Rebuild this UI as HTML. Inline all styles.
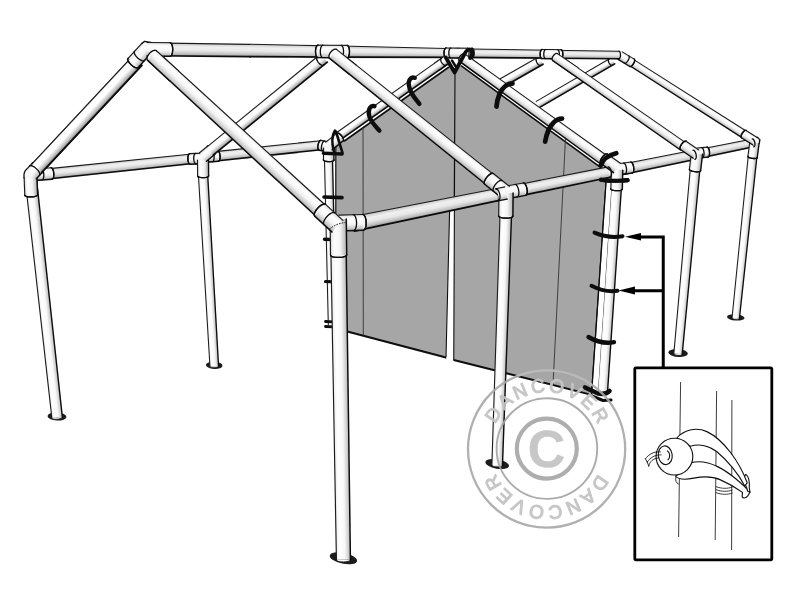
<!DOCTYPE html><html><head><meta charset="utf-8"><title>Dancover</title><style>html,body{margin:0;padding:0;background:#fff;overflow:hidden}svg{display:block}text{font-family:"Liberation Sans",sans-serif}</style></head><body><svg width="800" height="600" viewBox="0 0 800 600"><defs><linearGradient id="g1" gradientUnits="userSpaceOnUse" x1="573.74" y1="79.57" x2="577.26" y2="85.63"><stop offset="0" stop-color="#f2f2f2"/><stop offset="0.15" stop-color="#ffffff"/><stop offset="0.48" stop-color="#ffffff"/><stop offset="0.8" stop-color="#bebebe"/><stop offset="1" stop-color="#787878"/></linearGradient><linearGradient id="g2" gradientUnits="userSpaceOnUse" x1="517.4" y1="69.06" x2="521.6" y2="76.44"><stop offset="0" stop-color="#f2f2f2"/><stop offset="0.15" stop-color="#ffffff"/><stop offset="0.48" stop-color="#ffffff"/><stop offset="0.8" stop-color="#bebebe"/><stop offset="1" stop-color="#787878"/></linearGradient><linearGradient id="g3" gradientUnits="userSpaceOnUse" x1="740.11" y1="237.17" x2="748.11" y2="238"><stop offset="0" stop-color="#ececec"/><stop offset="0.25" stop-color="#ffffff"/><stop offset="0.6" stop-color="#f8f8f8"/><stop offset="1" stop-color="#b8b8b8"/></linearGradient><linearGradient id="g4" gradientUnits="userSpaceOnUse" x1="724.17" y1="144.44" x2="725.83" y2="152.67"><stop offset="0" stop-color="#c8c8c8"/><stop offset="0.28" stop-color="#f0f0f0"/><stop offset="0.55" stop-color="#e8e8e8"/><stop offset="0.85" stop-color="#bcbcbc"/><stop offset="1" stop-color="#8e8e8e"/></linearGradient><linearGradient id="g5" gradientUnits="userSpaceOnUse" x1="749.09" y1="147.4" x2="758.41" y2="148.6"><stop offset="0" stop-color="#dcdcdc"/><stop offset="0.25" stop-color="#ffffff"/><stop offset="0.6" stop-color="#f4f4f4"/><stop offset="1" stop-color="#b0b0b0"/></linearGradient><linearGradient id="g6" gradientUnits="userSpaceOnUse" x1="688.58" y1="94.42" x2="684.52" y2="100.78"><stop offset="0" stop-color="#ececec"/><stop offset="0.25" stop-color="#ffffff"/><stop offset="0.55" stop-color="#f4f4f4"/><stop offset="0.85" stop-color="#cccccc"/><stop offset="1" stop-color="#a0a0a0"/></linearGradient><linearGradient id="g7" gradientUnits="userSpaceOnUse" x1="752.2" y1="134.35" x2="747.58" y2="141.6"><stop offset="0" stop-color="#dcdcdc"/><stop offset="0.25" stop-color="#ffffff"/><stop offset="0.6" stop-color="#f4f4f4"/><stop offset="1" stop-color="#b0b0b0"/></linearGradient><linearGradient id="g8" gradientUnits="userSpaceOnUse" x1="628.23" y1="55.48" x2="623.77" y2="62.82"><stop offset="0" stop-color="#dcdcdc"/><stop offset="0.25" stop-color="#ffffff"/><stop offset="0.6" stop-color="#f4f4f4"/><stop offset="1" stop-color="#b0b0b0"/></linearGradient><linearGradient id="g9" gradientUnits="userSpaceOnUse" x1="682.02" y1="261.57" x2="690.99" y2="262.4"><stop offset="0" stop-color="#ececec"/><stop offset="0.25" stop-color="#ffffff"/><stop offset="0.6" stop-color="#f8f8f8"/><stop offset="1" stop-color="#b8b8b8"/></linearGradient><linearGradient id="g10" gradientUnits="userSpaceOnUse" x1="653.52" y1="157.99" x2="655.48" y2="167.69"><stop offset="0" stop-color="#c8c8c8"/><stop offset="0.28" stop-color="#f0f0f0"/><stop offset="0.55" stop-color="#e8e8e8"/><stop offset="0.85" stop-color="#bcbcbc"/><stop offset="1" stop-color="#8e8e8e"/></linearGradient><linearGradient id="g11" gradientUnits="userSpaceOnUse" x1="702.05" y1="147.57" x2="702.95" y2="157.53"><stop offset="0" stop-color="#dcdcdc"/><stop offset="0.25" stop-color="#ffffff"/><stop offset="0.6" stop-color="#f4f4f4"/><stop offset="1" stop-color="#b0b0b0"/></linearGradient><linearGradient id="g12" gradientUnits="userSpaceOnUse" x1="690.39" y1="161.07" x2="701.61" y2="162.43"><stop offset="0" stop-color="#dcdcdc"/><stop offset="0.25" stop-color="#ffffff"/><stop offset="0.6" stop-color="#f4f4f4"/><stop offset="1" stop-color="#b0b0b0"/></linearGradient><linearGradient id="g13" gradientUnits="userSpaceOnUse" x1="621.47" y1="98.1" x2="616.53" y2="105.2"><stop offset="0" stop-color="#ececec"/><stop offset="0.25" stop-color="#ffffff"/><stop offset="0.55" stop-color="#f4f4f4"/><stop offset="0.85" stop-color="#cccccc"/><stop offset="1" stop-color="#a0a0a0"/></linearGradient><linearGradient id="g14" gradientUnits="userSpaceOnUse" x1="692.45" y1="145.62" x2="686.78" y2="153.85"><stop offset="0" stop-color="#dcdcdc"/><stop offset="0.25" stop-color="#ffffff"/><stop offset="0.6" stop-color="#f4f4f4"/><stop offset="1" stop-color="#b0b0b0"/></linearGradient><linearGradient id="g15" gradientUnits="userSpaceOnUse" x1="200.23" y1="43.58" x2="200.07" y2="56.23"><stop offset="0" stop-color="#c8c8c8"/><stop offset="0.28" stop-color="#f0f0f0"/><stop offset="0.55" stop-color="#e8e8e8"/><stop offset="0.85" stop-color="#bcbcbc"/><stop offset="1" stop-color="#8e8e8e"/></linearGradient><linearGradient id="g16" gradientUnits="userSpaceOnUse" x1="290.22" y1="45.08" x2="290.08" y2="56.92"><stop offset="0" stop-color="#c8c8c8"/><stop offset="0.28" stop-color="#f0f0f0"/><stop offset="0.55" stop-color="#e8e8e8"/><stop offset="0.85" stop-color="#bcbcbc"/><stop offset="1" stop-color="#8e8e8e"/></linearGradient><linearGradient id="g17" gradientUnits="userSpaceOnUse" x1="393.71" y1="47.26" x2="393.59" y2="57.25"><stop offset="0" stop-color="#c8c8c8"/><stop offset="0.28" stop-color="#f0f0f0"/><stop offset="0.55" stop-color="#e8e8e8"/><stop offset="0.85" stop-color="#bcbcbc"/><stop offset="1" stop-color="#8e8e8e"/></linearGradient><linearGradient id="g18" gradientUnits="userSpaceOnUse" x1="503.7" y1="49.41" x2="503.6" y2="57.76"><stop offset="0" stop-color="#c8c8c8"/><stop offset="0.28" stop-color="#f0f0f0"/><stop offset="0.55" stop-color="#e8e8e8"/><stop offset="0.85" stop-color="#bcbcbc"/><stop offset="1" stop-color="#8e8e8e"/></linearGradient><linearGradient id="g19" gradientUnits="userSpaceOnUse" x1="584.7" y1="50.72" x2="584.6" y2="58.42"><stop offset="0" stop-color="#c8c8c8"/><stop offset="0.28" stop-color="#f0f0f0"/><stop offset="0.55" stop-color="#e8e8e8"/><stop offset="0.85" stop-color="#bcbcbc"/><stop offset="1" stop-color="#8e8e8e"/></linearGradient><linearGradient id="g20" gradientUnits="userSpaceOnUse" x1="326.4" y1="242.59" x2="334.4" y2="242.41"><stop offset="0" stop-color="#ececec"/><stop offset="0.25" stop-color="#ffffff"/><stop offset="0.6" stop-color="#f8f8f8"/><stop offset="1" stop-color="#b8b8b8"/></linearGradient><linearGradient id="g21" gradientUnits="userSpaceOnUse" x1="604.41" y1="290.17" x2="614.39" y2="290.83"><stop offset="0" stop-color="#ececec"/><stop offset="0.25" stop-color="#ffffff"/><stop offset="0.6" stop-color="#f8f8f8"/><stop offset="1" stop-color="#b8b8b8"/></linearGradient><linearGradient id="g22" gradientUnits="userSpaceOnUse" x1="389.63" y1="95.05" x2="394.37" y2="101.75"><stop offset="0" stop-color="#f2f2f2"/><stop offset="0.15" stop-color="#ffffff"/><stop offset="0.48" stop-color="#ffffff"/><stop offset="0.8" stop-color="#bebebe"/><stop offset="1" stop-color="#787878"/></linearGradient><linearGradient id="g23" gradientUnits="userSpaceOnUse" x1="535.35" y1="104.45" x2="529.65" y2="112.35"><stop offset="0" stop-color="#ececec"/><stop offset="0.25" stop-color="#ffffff"/><stop offset="0.55" stop-color="#f4f4f4"/><stop offset="0.85" stop-color="#cccccc"/><stop offset="1" stop-color="#a0a0a0"/></linearGradient><linearGradient id="g24" gradientUnits="userSpaceOnUse" x1="269.02" y1="146.04" x2="269.98" y2="155.19"><stop offset="0" stop-color="#c8c8c8"/><stop offset="0.28" stop-color="#f0f0f0"/><stop offset="0.55" stop-color="#e8e8e8"/><stop offset="0.85" stop-color="#bcbcbc"/><stop offset="1" stop-color="#8e8e8e"/></linearGradient><linearGradient id="g25" gradientUnits="userSpaceOnUse" x1="116.99" y1="161.68" x2="118.01" y2="171.47"><stop offset="0" stop-color="#c8c8c8"/><stop offset="0.28" stop-color="#f0f0f0"/><stop offset="0.55" stop-color="#e8e8e8"/><stop offset="0.85" stop-color="#bcbcbc"/><stop offset="1" stop-color="#8e8e8e"/></linearGradient><linearGradient id="g26" gradientUnits="userSpaceOnUse" x1="204.21" y1="271.37" x2="213.14" y2="270.85"><stop offset="0" stop-color="#ececec"/><stop offset="0.25" stop-color="#ffffff"/><stop offset="0.6" stop-color="#f8f8f8"/><stop offset="1" stop-color="#b8b8b8"/></linearGradient><linearGradient id="g27" gradientUnits="userSpaceOnUse" x1="38.64" y1="299.85" x2="49.47" y2="298.65"><stop offset="0" stop-color="#ececec"/><stop offset="0.25" stop-color="#ffffff"/><stop offset="0.6" stop-color="#f8f8f8"/><stop offset="1" stop-color="#b8b8b8"/></linearGradient><linearGradient id="g28" gradientUnits="userSpaceOnUse" x1="325.42" y1="141.24" x2="323.58" y2="151.07"><stop offset="0" stop-color="#dcdcdc"/><stop offset="0.25" stop-color="#ffffff"/><stop offset="0.6" stop-color="#f4f4f4"/><stop offset="1" stop-color="#b0b0b0"/></linearGradient><linearGradient id="g29" gradientUnits="userSpaceOnUse" x1="323.5" y1="153.96" x2="334" y2="154.04"><stop offset="0" stop-color="#dcdcdc"/><stop offset="0.25" stop-color="#ffffff"/><stop offset="0.6" stop-color="#f4f4f4"/><stop offset="1" stop-color="#b0b0b0"/></linearGradient><linearGradient id="g30" gradientUnits="userSpaceOnUse" x1="331.33" y1="137.63" x2="337.67" y2="145.37"><stop offset="0" stop-color="#dcdcdc"/><stop offset="0.25" stop-color="#ffffff"/><stop offset="0.6" stop-color="#f4f4f4"/><stop offset="1" stop-color="#b0b0b0"/></linearGradient><linearGradient id="g31" gradientUnits="userSpaceOnUse" x1="196.27" y1="153.39" x2="196.73" y2="163.98"><stop offset="0" stop-color="#dcdcdc"/><stop offset="0.25" stop-color="#ffffff"/><stop offset="0.6" stop-color="#f4f4f4"/><stop offset="1" stop-color="#b0b0b0"/></linearGradient><linearGradient id="g32" gradientUnits="userSpaceOnUse" x1="210.06" y1="151.48" x2="210.94" y2="161.84"><stop offset="0" stop-color="#dcdcdc"/><stop offset="0.25" stop-color="#ffffff"/><stop offset="0.6" stop-color="#f4f4f4"/><stop offset="1" stop-color="#b0b0b0"/></linearGradient><linearGradient id="g33" gradientUnits="userSpaceOnUse" x1="197.55" y1="168.03" x2="208.55" y2="167.97"><stop offset="0" stop-color="#dcdcdc"/><stop offset="0.25" stop-color="#ffffff"/><stop offset="0.6" stop-color="#f4f4f4"/><stop offset="1" stop-color="#b0b0b0"/></linearGradient><linearGradient id="g34" gradientUnits="userSpaceOnUse" x1="203.53" y1="149.48" x2="210.47" y2="158.02"><stop offset="0" stop-color="#dcdcdc"/><stop offset="0.25" stop-color="#ffffff"/><stop offset="0.6" stop-color="#f4f4f4"/><stop offset="1" stop-color="#b0b0b0"/></linearGradient><linearGradient id="g35" gradientUnits="userSpaceOnUse" x1="263.71" y1="100.57" x2="270.29" y2="108.63"><stop offset="0" stop-color="#f2f2f2"/><stop offset="0.15" stop-color="#ffffff"/><stop offset="0.48" stop-color="#ffffff"/><stop offset="0.8" stop-color="#bebebe"/><stop offset="1" stop-color="#787878"/></linearGradient><linearGradient id="g36" gradientUnits="userSpaceOnUse" x1="495.93" y1="340.4" x2="506.98" y2="340.78"><stop offset="0" stop-color="#ececec"/><stop offset="0.25" stop-color="#ffffff"/><stop offset="0.6" stop-color="#f8f8f8"/><stop offset="1" stop-color="#b8b8b8"/></linearGradient><linearGradient id="g37" gradientUnits="userSpaceOnUse" x1="565.41" y1="175.28" x2="567.59" y2="186.06"><stop offset="0" stop-color="#c8c8c8"/><stop offset="0.28" stop-color="#f0f0f0"/><stop offset="0.55" stop-color="#e8e8e8"/><stop offset="0.85" stop-color="#bcbcbc"/><stop offset="1" stop-color="#8e8e8e"/></linearGradient><linearGradient id="g38" gradientUnits="userSpaceOnUse" x1="423.67" y1="202.77" x2="426.33" y2="215.9"><stop offset="0" stop-color="#c8c8c8"/><stop offset="0.28" stop-color="#f0f0f0"/><stop offset="0.55" stop-color="#e8e8e8"/><stop offset="0.85" stop-color="#bcbcbc"/><stop offset="1" stop-color="#8e8e8e"/></linearGradient><linearGradient id="g39" gradientUnits="userSpaceOnUse" x1="623.5" y1="163.05" x2="625" y2="173.95"><stop offset="0" stop-color="#dcdcdc"/><stop offset="0.25" stop-color="#ffffff"/><stop offset="0.6" stop-color="#f4f4f4"/><stop offset="1" stop-color="#b0b0b0"/></linearGradient><linearGradient id="g40" gradientUnits="userSpaceOnUse" x1="611.05" y1="179.38" x2="622.55" y2="179.62"><stop offset="0" stop-color="#dcdcdc"/><stop offset="0.25" stop-color="#ffffff"/><stop offset="0.6" stop-color="#f4f4f4"/><stop offset="1" stop-color="#b0b0b0"/></linearGradient><linearGradient id="g41" gradientUnits="userSpaceOnUse" x1="613.85" y1="158.67" x2="607.15" y2="168.03"><stop offset="0" stop-color="#dcdcdc"/><stop offset="0.25" stop-color="#ffffff"/><stop offset="0.6" stop-color="#f4f4f4"/><stop offset="1" stop-color="#b0b0b0"/></linearGradient><linearGradient id="g42" gradientUnits="userSpaceOnUse" x1="514.14" y1="184.64" x2="516.36" y2="197.04"><stop offset="0" stop-color="#dcdcdc"/><stop offset="0.25" stop-color="#ffffff"/><stop offset="0.6" stop-color="#f4f4f4"/><stop offset="1" stop-color="#b0b0b0"/></linearGradient><linearGradient id="g43" gradientUnits="userSpaceOnUse" x1="498.8" y1="204.44" x2="513" y2="204.56"><stop offset="0" stop-color="#dcdcdc"/><stop offset="0.25" stop-color="#ffffff"/><stop offset="0.6" stop-color="#f4f4f4"/><stop offset="1" stop-color="#b0b0b0"/></linearGradient><linearGradient id="g44" gradientUnits="userSpaceOnUse" x1="414.97" y1="111.91" x2="407.53" y2="121.19"><stop offset="0" stop-color="#ececec"/><stop offset="0.25" stop-color="#ffffff"/><stop offset="0.55" stop-color="#f4f4f4"/><stop offset="0.85" stop-color="#cccccc"/><stop offset="1" stop-color="#a0a0a0"/></linearGradient><linearGradient id="g45" gradientUnits="userSpaceOnUse" x1="501.32" y1="179.92" x2="492.69" y2="190.69"><stop offset="0" stop-color="#dcdcdc"/><stop offset="0.25" stop-color="#ffffff"/><stop offset="0.6" stop-color="#f4f4f4"/><stop offset="1" stop-color="#b0b0b0"/></linearGradient><linearGradient id="g46" gradientUnits="userSpaceOnUse" x1="500.82" y1="187.69" x2="503.18" y2="199.86"><stop offset="0" stop-color="#dcdcdc"/><stop offset="0.25" stop-color="#ffffff"/><stop offset="0.6" stop-color="#f4f4f4"/><stop offset="1" stop-color="#b0b0b0"/></linearGradient><linearGradient id="g47" gradientUnits="userSpaceOnUse" x1="82.75" y1="109.56" x2="92.25" y2="118.44"><stop offset="0" stop-color="#f2f2f2"/><stop offset="0.15" stop-color="#ffffff"/><stop offset="0.48" stop-color="#ffffff"/><stop offset="0.8" stop-color="#bebebe"/><stop offset="1" stop-color="#787878"/></linearGradient><linearGradient id="g48" gradientUnits="userSpaceOnUse" x1="333.69" y1="407.44" x2="348.33" y2="407.21"><stop offset="0" stop-color="#ececec"/><stop offset="0.25" stop-color="#ffffff"/><stop offset="0.6" stop-color="#f8f8f8"/><stop offset="1" stop-color="#b8b8b8"/></linearGradient><linearGradient id="g49" gradientUnits="userSpaceOnUse" x1="41.07" y1="168.52" x2="41.93" y2="179.99"><stop offset="0" stop-color="#dcdcdc"/><stop offset="0.25" stop-color="#ffffff"/><stop offset="0.6" stop-color="#f4f4f4"/><stop offset="1" stop-color="#b0b0b0"/></linearGradient><linearGradient id="g50" gradientUnits="userSpaceOnUse" x1="24.45" y1="186.25" x2="37.25" y2="185.75"><stop offset="0" stop-color="#dcdcdc"/><stop offset="0.25" stop-color="#ffffff"/><stop offset="0.6" stop-color="#f4f4f4"/><stop offset="1" stop-color="#b0b0b0"/></linearGradient><linearGradient id="g51" gradientUnits="userSpaceOnUse" x1="29.33" y1="166.35" x2="39.27" y2="175.63"><stop offset="0" stop-color="#dcdcdc"/><stop offset="0.25" stop-color="#ffffff"/><stop offset="0.6" stop-color="#f4f4f4"/><stop offset="1" stop-color="#b0b0b0"/></linearGradient><linearGradient id="g52" gradientUnits="userSpaceOnUse" x1="82.18" y1="110.19" x2="91.68" y2="119.06"><stop offset="0" stop-color="#f2f2f2"/><stop offset="0.15" stop-color="#ffffff"/><stop offset="0.48" stop-color="#ffffff"/><stop offset="0.8" stop-color="#bebebe"/><stop offset="1" stop-color="#787878"/></linearGradient><linearGradient id="g53" gradientUnits="userSpaceOnUse" x1="350.8" y1="214.8" x2="351.2" y2="230.6"><stop offset="0" stop-color="#dcdcdc"/><stop offset="0.25" stop-color="#ffffff"/><stop offset="0.6" stop-color="#f4f4f4"/><stop offset="1" stop-color="#b0b0b0"/></linearGradient><linearGradient id="g54" gradientUnits="userSpaceOnUse" x1="330.3" y1="237.09" x2="346.5" y2="236.91"><stop offset="0" stop-color="#dcdcdc"/><stop offset="0.25" stop-color="#ffffff"/><stop offset="0.6" stop-color="#f4f4f4"/><stop offset="1" stop-color="#b0b0b0"/></linearGradient><linearGradient id="g55" gradientUnits="userSpaceOnUse" x1="241.11" y1="128.12" x2="231.76" y2="138.28"><stop offset="0" stop-color="#ececec"/><stop offset="0.25" stop-color="#ffffff"/><stop offset="0.55" stop-color="#f4f4f4"/><stop offset="0.85" stop-color="#cccccc"/><stop offset="1" stop-color="#a0a0a0"/></linearGradient><linearGradient id="g56" gradientUnits="userSpaceOnUse" x1="334.23" y1="212.32" x2="323.4" y2="224.1"><stop offset="0" stop-color="#dcdcdc"/><stop offset="0.25" stop-color="#ffffff"/><stop offset="0.6" stop-color="#f4f4f4"/><stop offset="1" stop-color="#b0b0b0"/></linearGradient><linearGradient id="g57" gradientUnits="userSpaceOnUse" x1="135.19" y1="50.56" x2="145.21" y2="59.74"><stop offset="0" stop-color="#dcdcdc"/><stop offset="0.25" stop-color="#ffffff"/><stop offset="0.6" stop-color="#f4f4f4"/><stop offset="1" stop-color="#b0b0b0"/></linearGradient><linearGradient id="g58" gradientUnits="userSpaceOnUse" x1="158.57" y1="42.62" x2="158.43" y2="56.22"><stop offset="0" stop-color="#dcdcdc"/><stop offset="0.25" stop-color="#ffffff"/><stop offset="0.6" stop-color="#f4f4f4"/><stop offset="1" stop-color="#b0b0b0"/></linearGradient><linearGradient id="g59" gradientUnits="userSpaceOnUse" x1="167.48" y1="60.83" x2="158.59" y2="70.49"><stop offset="0" stop-color="#ececec"/><stop offset="0.25" stop-color="#ffffff"/><stop offset="0.55" stop-color="#f4f4f4"/><stop offset="0.85" stop-color="#cccccc"/><stop offset="1" stop-color="#a0a0a0"/></linearGradient><linearGradient id="g60" gradientUnits="userSpaceOnUse" x1="324.08" y1="45.16" x2="323.92" y2="57.66"><stop offset="0" stop-color="#dcdcdc"/><stop offset="0.25" stop-color="#ffffff"/><stop offset="0.6" stop-color="#f4f4f4"/><stop offset="1" stop-color="#b0b0b0"/></linearGradient><linearGradient id="g61" gradientUnits="userSpaceOnUse" x1="338.58" y1="45.34" x2="338.42" y2="57.84"><stop offset="0" stop-color="#dcdcdc"/><stop offset="0.25" stop-color="#ffffff"/><stop offset="0.6" stop-color="#f4f4f4"/><stop offset="1" stop-color="#b0b0b0"/></linearGradient><linearGradient id="g62" gradientUnits="userSpaceOnUse" x1="346.29" y1="57.21" x2="339.22" y2="66.03"><stop offset="0" stop-color="#ececec"/><stop offset="0.25" stop-color="#ffffff"/><stop offset="0.55" stop-color="#f4f4f4"/><stop offset="0.85" stop-color="#cccccc"/><stop offset="1" stop-color="#a0a0a0"/></linearGradient><linearGradient id="g63" gradientUnits="userSpaceOnUse" x1="452.06" y1="48.02" x2="451.94" y2="57.91"><stop offset="0" stop-color="#dcdcdc"/><stop offset="0.25" stop-color="#ffffff"/><stop offset="0.6" stop-color="#f4f4f4"/><stop offset="1" stop-color="#b0b0b0"/></linearGradient><linearGradient id="g64" gradientUnits="userSpaceOnUse" x1="465.06" y1="48.17" x2="464.94" y2="58.07"><stop offset="0" stop-color="#dcdcdc"/><stop offset="0.25" stop-color="#ffffff"/><stop offset="0.6" stop-color="#f4f4f4"/><stop offset="1" stop-color="#b0b0b0"/></linearGradient><linearGradient id="g65" gradientUnits="userSpaceOnUse" x1="474.8" y1="61.13" x2="469.47" y2="68.51"><stop offset="0" stop-color="#ececec"/><stop offset="0.25" stop-color="#ffffff"/><stop offset="0.55" stop-color="#f4f4f4"/><stop offset="0.85" stop-color="#cccccc"/><stop offset="1" stop-color="#a0a0a0"/></linearGradient><linearGradient id="g66" gradientUnits="userSpaceOnUse" x1="546.56" y1="49.51" x2="546.44" y2="58.7"><stop offset="0" stop-color="#dcdcdc"/><stop offset="0.25" stop-color="#ffffff"/><stop offset="0.6" stop-color="#f4f4f4"/><stop offset="1" stop-color="#b0b0b0"/></linearGradient><linearGradient id="g67" gradientUnits="userSpaceOnUse" x1="556.06" y1="49.63" x2="555.94" y2="58.82"><stop offset="0" stop-color="#dcdcdc"/><stop offset="0.25" stop-color="#ffffff"/><stop offset="0.6" stop-color="#f4f4f4"/><stop offset="1" stop-color="#b0b0b0"/></linearGradient><linearGradient id="g68" gradientUnits="userSpaceOnUse" x1="567.68" y1="60.63" x2="562.91" y2="67.55"><stop offset="0" stop-color="#ececec"/><stop offset="0.25" stop-color="#ffffff"/><stop offset="0.55" stop-color="#f4f4f4"/><stop offset="0.85" stop-color="#cccccc"/><stop offset="1" stop-color="#a0a0a0"/></linearGradient><linearGradient id="g69" gradientUnits="userSpaceOnUse" x1="439.68" y1="59.54" x2="444.53" y2="66.39"><stop offset="0" stop-color="#f2f2f2"/><stop offset="0.15" stop-color="#ffffff"/><stop offset="0.48" stop-color="#ffffff"/><stop offset="0.8" stop-color="#bebebe"/><stop offset="1" stop-color="#787878"/></linearGradient><filter id="soft" x="-5%" y="-5%" width="110%" height="110%"><feGaussianBlur stdDeviation="0.35"/></filter><path id="wmt" d="M489.6 449A57 57 0 0 1 603.6 449"/><path id="wmb" d="M603.6 449A57 57 0 0 1 489.6 449"/><clipPath id="pc"><polygon points="335.8,147 344,141.2 449,67 455,71 461,65.6 605,170.6 591.5,394.8 453.75,360 446,357.5 335.8,328.5"/></clipPath><filter id="soft2" x="0" y="0" width="800" height="600" filterUnits="userSpaceOnUse"><feGaussianBlur stdDeviation="0.45"/></filter></defs><g filter="url(#soft2)"><polygon points="611.24,57.77 536.24,101.37 539.76,107.43 614.76,63.83" fill="url(#g1)"/>
<path d="M611.24 57.77L536.24 101.37" fill="none" stroke="#1c1c1c" stroke-width="1.02" stroke-linecap="round"/>
<path d="M614.76 63.83L539.76 107.43" fill="none" stroke="#0a0a0a" stroke-width="1.54" stroke-linecap="round"/>
<path d="M608.87 58.87L608.51 59.22L608.31 59.77L608.27 60.48L608.4 61.3L608.7 62.18L609.13 63.05L609.67 63.86L610.29 64.55L610.94 65.07L611.57 65.39L612.15 65.48L612.63 65.35" fill="none" stroke="#0a0a0a" stroke-width="1.3" stroke-linecap="round" stroke-linejoin="round"/>
<polygon points="538.9,56.81 495.9,81.31 500.1,88.69 543.1,64.19" fill="url(#g2)"/>
<path d="M538.9 56.81L495.9 81.31" fill="none" stroke="#1c1c1c" stroke-width="1.06" stroke-linecap="round"/>
<path d="M543.1 64.19L500.1 88.69" fill="none" stroke="#0a0a0a" stroke-width="1.59" stroke-linecap="round"/>
<path d="M536.75 58.03L536.34 58.43L536.1 59.05L536.06 59.86L536.2 60.79L536.52 61.79L537 62.78L537.61 63.7L538.3 64.48L539.03 65.08L539.75 65.45L540.4 65.56L540.95 65.42" fill="none" stroke="#0a0a0a" stroke-width="1.3" stroke-linecap="round" stroke-linejoin="round"/>
<ellipse cx="735.8" cy="317.4" rx="8.8" ry="3.1" transform="rotate(4 735.8 317.4)" fill="#1c1c1c"/>
<path d="M732.04 317.79L732.13 318.11L732.47 318.43L733.03 318.73L733.77 319L734.65 319.21L735.6 319.35L736.55 319.41L737.45 319.38L738.24 319.27L738.85 319.09L739.24 318.85L739.4 318.55" fill="#fff" stroke="#0a0a0a" stroke-width="0.7" stroke-linecap="round" stroke-linejoin="round"/>
<polygon points="748.17,156.55 732.04,317.79 739.4,318.55 756.83,157.45" fill="url(#g3)"/>
<path d="M748.17 156.55L732.04 317.79" fill="none" stroke="#1c1c1c" stroke-width="1.05" stroke-linecap="round"/>
<path d="M756.83 157.45L739.4 318.55" fill="none" stroke="#0a0a0a" stroke-width="1.3" stroke-linecap="round"/>
<polygon points="696.13,149.92 752.21,138.96 753.79,146.8 697.87,158.54" fill="url(#g4)"/>
<path d="M696.13 149.92L752.21 138.96" fill="none" stroke="#1c1c1c" stroke-width="1.06" stroke-linecap="round"/>
<path d="M697.87 158.54L753.79 146.8" fill="none" stroke="#0a0a0a" stroke-width="1.58" stroke-linecap="round"/>
<path d="M747.94 156.4L748.05 156.79L748.47 157.18L749.18 157.57L750.11 157.91L751.22 158.2L752.42 158.4L753.63 158.51L754.78 158.51L755.77 158.41L756.55 158.22L757.06 157.94L757.26 157.6" fill="#f4f4f4" stroke="#0a0a0a" stroke-width="1.3" stroke-linecap="round" stroke-linejoin="round"/>
<polygon points="750.24,138.4 747.94,156.4 757.26,157.6 759.56,139.6" fill="url(#g5)"/>
<path d="M750.24 138.4L747.94 156.4" fill="none" stroke="#1c1c1c" stroke-width="1.08" stroke-linecap="round"/>
<path d="M759.56 139.6L757.26 157.6" fill="none" stroke="#0a0a0a" stroke-width="1.34" stroke-linecap="round"/>
<path d="M747.94 156.4L748.05 156.79L748.47 157.18L749.18 157.57L750.11 157.91L751.22 158.2L752.42 158.4L753.63 158.51L754.78 158.51L755.77 158.41L756.55 158.22L757.06 157.94L757.26 157.6" fill="none" stroke="#0a0a0a" stroke-width="1.3" stroke-linecap="round" stroke-linejoin="round"/>
<polygon points="632.56,58.82 744.6,130.01 740.4,136.59 628.64,64.98" fill="url(#g6)"/>
<path d="M632.56 58.82L744.6 130.01" fill="none" stroke="#1c1c1c" stroke-width="1.04" stroke-linecap="round"/>
<path d="M628.64 64.98L740.4 136.59" fill="none" stroke="#0a0a0a" stroke-width="1.29" stroke-linecap="round"/>
<path d="M746.09 130.46L745.63 130.34L745.05 130.48L744.38 130.86L743.67 131.47L742.97 132.25L742.32 133.16L741.78 134.13L741.36 135.09L741.11 135.99L741.05 136.76L741.17 137.34L741.46 137.71" fill="#f4f4f4" stroke="#0a0a0a" stroke-width="1.3" stroke-linecap="round" stroke-linejoin="round"/>
<polygon points="758.31,138.25 746.09,130.46 741.46,137.71 753.69,145.5" fill="url(#g7)"/>
<path d="M758.31 138.25L746.09 130.46" fill="none" stroke="#1c1c1c" stroke-width="1.06" stroke-linecap="round"/>
<path d="M753.69 145.5L741.46 137.71" fill="none" stroke="#0a0a0a" stroke-width="1.32" stroke-linecap="round"/>
<path d="M746.09 130.46L745.63 130.34L745.05 130.48L744.38 130.86L743.67 131.47L742.97 132.25L742.32 133.16L741.78 134.13L741.36 135.09L741.11 135.99L741.05 136.76L741.17 137.34L741.46 137.71" fill="none" stroke="#0a0a0a" stroke-width="1.3" stroke-linecap="round" stroke-linejoin="round"/>
<path d="M757.5 137.2L759.8 139.6L759.3 143L752 143Z" fill="#f4f4f4"/>
<path d="M757.3 137.2L759.8 139.6L759.4 143" fill="none" stroke="#0a0a0a" stroke-width="1.3" stroke-linejoin="round" stroke-linecap="round"/>
<path d="M752.19 138.86L752.68 138.91L753.2 139.22L753.7 139.78L754.16 140.56L754.54 141.49L754.81 142.52L754.96 143.57L754.97 144.57L754.85 145.46L754.61 146.18L754.25 146.67L753.81 146.9" fill="#e8e8e8" stroke="#0a0a0a" stroke-width="1.3" stroke-linecap="round" stroke-linejoin="round"/>
<path d="M629.77 66.47L630.22 66.58L630.8 66.43L631.46 66.03L632.16 65.41L632.84 64.61L633.47 63.69L634 62.71L634.39 61.74L634.62 60.83L634.67 60.07L634.54 59.48L634.23 59.13" fill="#f4f4f4" stroke="#0a0a0a" stroke-width="1.3" stroke-linecap="round" stroke-linejoin="round"/>
<polygon points="622.23,51.83 634.23,59.13 629.77,66.47 617.77,59.17" fill="url(#g8)"/>
<path d="M622.23 51.83L634.23 59.13" fill="none" stroke="#1c1c1c" stroke-width="1.06" stroke-linecap="round"/>
<path d="M617.77 59.17L629.77 66.47" fill="none" stroke="#0a0a0a" stroke-width="1.32" stroke-linecap="round"/>
<path d="M624.37 63.19L624.82 63.29L625.4 63.14L626.06 62.74L626.76 62.13L627.44 61.33L628.07 60.41L628.6 59.43L628.99 58.45L629.22 57.55L629.27 56.78L629.14 56.2L628.83 55.84" fill="none" stroke="#0a0a0a" stroke-width="1.3" stroke-linecap="round" stroke-linejoin="round"/>
<path d="M629.77 66.47L630.22 66.58L630.8 66.43L631.46 66.03L632.16 65.41L632.84 64.61L633.47 63.69L634 62.71L634.39 61.74L634.62 60.83L634.67 60.07L634.54 59.48L634.23 59.13" fill="none" stroke="#0a0a0a" stroke-width="1.3" stroke-linecap="round" stroke-linejoin="round"/>
<ellipse cx="678.1" cy="353" rx="9.8" ry="3.9" transform="rotate(5 678.1 353)" fill="#1c1c1c"/>
<path d="M673.83 353.58L673.94 353.94L674.33 354.31L674.97 354.64L675.81 354.94L676.81 355.16L677.89 355.31L678.97 355.36L679.99 355.32L680.88 355.19L681.57 354.97L682.02 354.69L682.19 354.36" fill="#fff" stroke="#0a0a0a" stroke-width="0.7" stroke-linecap="round" stroke-linejoin="round"/>
<polygon points="690.22,169.56 673.83,353.58 682.19,354.36 699.78,170.44" fill="url(#g9)"/>
<path d="M690.22 169.56L673.83 353.58" fill="none" stroke="#1c1c1c" stroke-width="1.07" stroke-linecap="round"/>
<path d="M699.78 170.44L682.19 354.36" fill="none" stroke="#0a0a0a" stroke-width="1.33" stroke-linecap="round"/>
<polygon points="613.97,165.74 693.07,150.23 694.93,159.44 616.03,175.94" fill="url(#g10)"/>
<path d="M613.97 165.74L693.07 150.23" fill="none" stroke="#1c1c1c" stroke-width="1.09" stroke-linecap="round"/>
<path d="M616.03 175.94L694.93 159.44" fill="none" stroke="#0a0a0a" stroke-width="1.63" stroke-linecap="round"/>
<path d="M707.95 157.08L708.45 156.86L708.88 156.32L709.23 155.5L709.45 154.44L709.54 153.22L709.49 151.92L709.31 150.64L709 149.46L708.59 148.45L708.11 147.7L707.58 147.24L707.05 147.12" fill="#f4f4f4" stroke="#0a0a0a" stroke-width="1.3" stroke-linecap="round" stroke-linejoin="round"/>
<polygon points="697.05,148.02 707.05,147.12 707.95,157.08 697.95,157.98" fill="url(#g11)"/>
<path d="M697.05 148.02L707.05 147.12" fill="none" stroke="#1c1c1c" stroke-width="1.09" stroke-linecap="round"/>
<path d="M697.95 157.98L707.95 157.08" fill="none" stroke="#0a0a0a" stroke-width="1.36" stroke-linecap="round"/>
<path d="M702.45 157.58L702.95 157.36L703.38 156.82L703.73 155.99L703.95 154.93L704.04 153.71L703.99 152.42L703.81 151.13L703.5 149.95L703.09 148.95L702.61 148.19L702.08 147.74L701.55 147.62" fill="none" stroke="#0a0a0a" stroke-width="1.3" stroke-linecap="round" stroke-linejoin="round"/>
<path d="M707.95 157.08L708.45 156.86L708.88 156.32L709.23 155.5L709.45 154.44L709.54 153.22L709.49 151.92L709.31 150.64L709 149.46L708.59 148.45L708.11 147.7L707.58 147.24L707.05 147.12" fill="none" stroke="#0a0a0a" stroke-width="1.3" stroke-linecap="round" stroke-linejoin="round"/>
<path d="M689.39 169.32L689.53 169.78L690.04 170.25L690.89 170.71L692.02 171.12L693.35 171.45L694.8 171.68L696.25 171.8L697.63 171.8L698.82 171.67L699.76 171.43L700.37 171.09L700.61 170.68" fill="#f4f4f4" stroke="#0a0a0a" stroke-width="1.3" stroke-linecap="round" stroke-linejoin="round"/>
<polygon points="691.39,152.82 689.39,169.32 700.61,170.68 702.61,154.18" fill="url(#g12)"/>
<path d="M691.39 152.82L689.39 169.32" fill="none" stroke="#1c1c1c" stroke-width="1.12" stroke-linecap="round"/>
<path d="M702.61 154.18L700.61 170.68" fill="none" stroke="#0a0a0a" stroke-width="1.39" stroke-linecap="round"/>
<path d="M689.39 169.32L689.53 169.78L690.04 170.25L690.89 170.71L692.02 171.12L693.35 171.45L694.8 171.68L696.25 171.8L697.63 171.8L698.82 171.67L699.76 171.43L700.37 171.09L700.61 170.68" fill="none" stroke="#0a0a0a" stroke-width="1.3" stroke-linecap="round" stroke-linejoin="round"/>
<polygon points="557.37,53.6 685.57,142.61 680.43,149.99 552.63,60.4" fill="url(#g13)"/>
<path d="M557.37 53.6L685.57 142.61" fill="none" stroke="#1c1c1c" stroke-width="1.06" stroke-linecap="round"/>
<path d="M552.63 60.4L680.43 149.99" fill="none" stroke="#0a0a0a" stroke-width="1.32" stroke-linecap="round"/>
<path d="M686.07 141.22L685.55 141.07L684.87 141.21L684.08 141.63L683.23 142.3L682.38 143.18L681.59 144.21L680.91 145.31L680.39 146.42L680.07 147.45L679.96 148.34L680.07 149.02L680.4 149.46" fill="#f4f4f4" stroke="#0a0a0a" stroke-width="1.3" stroke-linecap="round" stroke-linejoin="round"/>
<polygon points="698.84,150.02 686.07,141.22 680.4,149.46 693.16,158.25" fill="url(#g14)"/>
<path d="M698.84 150.02L686.07 141.22" fill="none" stroke="#1c1c1c" stroke-width="1.09" stroke-linecap="round"/>
<path d="M693.16 158.25L680.4 149.46" fill="none" stroke="#0a0a0a" stroke-width="1.36" stroke-linecap="round"/>
<path d="M686.07 141.22L685.55 141.07L684.87 141.21L684.08 141.63L683.23 142.3L682.38 143.18L681.59 144.21L680.91 145.31L680.39 146.42L680.07 147.45L679.96 148.34L680.07 149.02L680.4 149.46" fill="none" stroke="#0a0a0a" stroke-width="1.3" stroke-linecap="round" stroke-linejoin="round"/>
<path d="M693.07 150.23L693.64 150.28L694.23 150.64L694.81 151.28L695.33 152.17L695.76 153.24L696.07 154.42L696.24 155.62L696.26 156.78L696.13 157.8L695.84 158.61L695.44 159.18L694.93 159.44" fill="none" stroke="#0a0a0a" stroke-width="1.3" stroke-linecap="round" stroke-linejoin="round"/>
<polygon points="150.08,42.85 250.38,44.32 250.22,56.72 149.92,55.75" fill="url(#g15)"/>
<path d="M150.08 42.85L250.38 44.32" fill="none" stroke="#1c1c1c" stroke-width="1.15" stroke-linecap="round"/>
<path d="M149.92 55.75L250.22 56.72" fill="none" stroke="#0a0a0a" stroke-width="1.73" stroke-linecap="round"/>
<polygon points="250.08,44.31 330.37,45.84 330.23,57.14 249.92,56.71" fill="url(#g16)"/>
<path d="M250.08 44.31L330.37 45.84" fill="none" stroke="#1c1c1c" stroke-width="1.13" stroke-linecap="round"/>
<path d="M249.92 56.71L330.23 57.14" fill="none" stroke="#0a0a0a" stroke-width="1.7" stroke-linecap="round"/>
<polygon points="330.07,45.83 457.35,48.68 457.25,57.38 329.93,57.13" fill="url(#g17)"/>
<path d="M330.07 45.83L457.35 48.68" fill="none" stroke="#1c1c1c" stroke-width="1.09" stroke-linecap="round"/>
<path d="M329.93 57.13L457.25 57.38" fill="none" stroke="#0a0a0a" stroke-width="1.64" stroke-linecap="round"/>
<polygon points="457.05,48.67 550.35,50.15 550.25,58.15 456.95,57.37" fill="url(#g18)"/>
<path d="M457.05 48.67L550.35 50.15" fill="none" stroke="#1c1c1c" stroke-width="1.05" stroke-linecap="round"/>
<path d="M456.95 57.37L550.25 58.15" fill="none" stroke="#0a0a0a" stroke-width="1.58" stroke-linecap="round"/>
<polygon points="550.05,50.15 619.34,51.29 619.26,58.7 549.95,58.15" fill="url(#g19)"/>
<path d="M550.05 50.15L619.34 51.29" fill="none" stroke="#1c1c1c" stroke-width="1.04" stroke-linecap="round"/>
<path d="M549.95 58.15L619.26 58.7" fill="none" stroke="#0a0a0a" stroke-width="1.56" stroke-linecap="round"/>
<path d="M618.96 58.69L619.34 58.57L619.7 58.2L620.01 57.62L620.26 56.85L620.42 55.96L620.48 55.01L620.44 54.05L620.3 53.15L620.08 52.38L619.78 51.79L619.43 51.42L619.04 51.29" fill="none" stroke="#0a0a0a" stroke-width="1.3" stroke-linecap="round" stroke-linejoin="round"/>
<polygon points="324.5,160.09 328.3,325.09 336.3,324.91 332.5,159.91" fill="url(#g20)"/>
<path d="M324.5 160.09L328.3 325.09" fill="none" stroke="#1c1c1c" stroke-width="1.05" stroke-linecap="round"/>
<path d="M332.5 159.91L336.3 324.91" fill="none" stroke="#0a0a0a" stroke-width="1.3" stroke-linecap="round"/>
<polygon points="611.11,188.66 597.71,391.67 607.49,392.33 621.29,189.34" fill="url(#g21)"/>
<path d="M611.11 188.66L597.71 391.67" fill="none" stroke="#1c1c1c" stroke-width="1.09" stroke-linecap="round"/>
<path d="M621.29 189.34L607.49 392.33" fill="none" stroke="#0a0a0a" stroke-width="1.36" stroke-linecap="round"/>
<polygon points="335.8,147 344,141.2 449,67 455,71 461,65.6 605,170.6 607,168 591.5,394.8 453.75,360 446,357.5 335.8,328.5" fill="#a6a6a6"/>
<path d="M344 141.2L449 67M461 65.6L605 170.6" fill="none" stroke="#111" stroke-width="1.7" />
<path d="M335.8 147L335.8 328.5M591.5 394.8L607 168" fill="none" stroke="#111" stroke-width="1.2" />
<path d="M335.8 328.5L446 357.5M453.75 360L591.5 394.8" fill="none" stroke="#0a0a0a" stroke-width="1.9" stroke-linecap="round"/>
<polygon points="454.2,204 453.75,360.5 446,358 449.6,211" fill="#fff"/>
<path d="M455 72L454.2 204L449.6 211L446 357.5M455 72L453.75 360" fill="none" stroke="#111" stroke-width="1.1" />
<path d="M363 128L363.3 335.5" fill="none" stroke="#333" stroke-width="0.9" />
<path d="M565.5 138L553 385" fill="none" stroke="#333" stroke-width="0.9" />
<polygon points="607.3,172 611.2,190 598,391 592.3,394.5" fill="#fff"/>
<path d="M607 168L591.5 394.8" fill="none" stroke="#111" stroke-width="1.3" />
<polygon points="444.57,56.07 334.69,134.03 339.31,140.57 449.43,62.93" fill="url(#g22)"/>
<path d="M444.57 56.07L334.69 134.03" fill="none" stroke="#1c1c1c" stroke-width="1.05" stroke-linecap="round"/>
<path d="M449.43 62.93L339.31 140.57" fill="none" stroke="#0a0a0a" stroke-width="1.58" stroke-linecap="round"/>
<polygon points="464.63,53.85 606.07,155.04 599.93,163.56 459.37,61.15" fill="url(#g23)"/>
<path d="M464.63 53.85L606.07 155.04" fill="none" stroke="#1c1c1c" stroke-width="1.09" stroke-linecap="round"/>
<path d="M459.37 61.15L599.93 163.56" fill="none" stroke="#0a0a0a" stroke-width="1.35" stroke-linecap="round"/>
<path d="M374.5 106.2C370.5 105 368 109 369 115C370 121 374 124.5 379.4 130.6" fill="none" stroke="#111" stroke-width="4.4" stroke-linecap="round" stroke-linejoin="round"/>
<path d="M414.8 77.8C410.5 76.5 408 80 409 86C410 92.5 414 97 419.4 103.8" fill="none" stroke="#111" stroke-width="4.4" stroke-linecap="round" stroke-linejoin="round"/>
<path d="M512.5 83.5C507 83.5 502 88 499.5 94C497.5 99 496.8 103 496.5 106.5" fill="none" stroke="#111" stroke-width="4.8" stroke-linecap="round" stroke-linejoin="round"/>
<path d="M562 118.6C556.5 118.6 551.5 124 548.5 130C546.5 135 545.6 138.5 545.2 141.5" fill="none" stroke="#111" stroke-width="4.8" stroke-linecap="round" stroke-linejoin="round"/>
<path d="M601 179.6Q614 181.8 627.5 180.2" fill="none" stroke="#111" stroke-width="4.2" stroke-linecap="round" stroke-linejoin="round"/>
<path d="M594.5 232.6Q608 238.6 622.5 236.2" fill="none" stroke="#111" stroke-width="4" stroke-linecap="round" stroke-linejoin="round"/>
<path d="M591.5 285.8Q605 292.8 617.5 290.8" fill="none" stroke="#111" stroke-width="4" stroke-linecap="round" stroke-linejoin="round"/>
<path d="M588.5 337Q601 344.5 614 342.2" fill="none" stroke="#111" stroke-width="4.4" stroke-linecap="round" stroke-linejoin="round"/>
<path d="M585 387.5L598 393.5Q606 395 609.5 391" fill="none" stroke="#111" stroke-width="4.6" stroke-linecap="round" stroke-linejoin="round"/>
<path d="M592 396L603 400.5L611 400" fill="none" stroke="#111" stroke-width="3" stroke-linecap="round" stroke-linejoin="round"/>
<polygon points="217.51,151.35 320.53,140.73 321.47,149.68 218.49,160.7" fill="url(#g24)"/>
<path d="M217.51 151.35L320.53 140.73" fill="none" stroke="#1c1c1c" stroke-width="1.07" stroke-linecap="round"/>
<path d="M218.49 160.7L321.47 149.68" fill="none" stroke="#0a0a0a" stroke-width="1.61" stroke-linecap="round"/>
<polygon points="44.47,169.12 189.5,154.24 190.5,163.69 45.53,179.26" fill="url(#g25)"/>
<path d="M44.47 169.12L189.5 154.24" fill="none" stroke="#1c1c1c" stroke-width="1.09" stroke-linecap="round"/>
<path d="M45.53 179.26L190.5 163.69" fill="none" stroke="#0a0a0a" stroke-width="1.63" stroke-linecap="round"/>
<ellipse cx="214.2" cy="365.3" rx="8.3" ry="3.7" transform="rotate(3 214.2 365.3)" fill="#1c1c1c"/>
<path d="M209.96 366.48L210.13 366.82L210.58 367.13L211.28 367.37L212.18 367.54L213.22 367.62L214.33 367.6L215.44 367.49L216.47 367.29L217.35 367.02L218.01 366.69L218.42 366.34L218.55 365.97" fill="#fff" stroke="#0a0a0a" stroke-width="0.7" stroke-linecap="round" stroke-linejoin="round"/>
<polygon points="198.46,176.27 209.96,366.48 218.55,365.97 207.74,175.73" fill="url(#g26)"/>
<path d="M198.46 176.27L209.96 366.48" fill="none" stroke="#1c1c1c" stroke-width="1.07" stroke-linecap="round"/>
<path d="M207.74 175.73L218.55 365.97" fill="none" stroke="#0a0a0a" stroke-width="1.33" stroke-linecap="round"/>
<ellipse cx="57" cy="416.5" rx="9.5" ry="4" transform="rotate(3 57 416.5)" fill="#1c1c1c"/>
<path d="M51.89 418.07L52.12 418.48L52.68 418.83L53.55 419.08L54.66 419.23L55.94 419.26L57.29 419.16L58.64 418.96L59.88 418.65L60.93 418.27L61.72 417.83L62.2 417.37L62.33 416.92" fill="#fff" stroke="#0a0a0a" stroke-width="0.7" stroke-linecap="round" stroke-linejoin="round"/>
<polygon points="25.38,181.62 51.89,418.07 62.33,416.92 36.62,180.38" fill="url(#g27)"/>
<path d="M25.38 181.62L51.89 418.07" fill="none" stroke="#1c1c1c" stroke-width="1.11" stroke-linecap="round"/>
<path d="M36.62 180.38L62.33 416.92" fill="none" stroke="#0a0a0a" stroke-width="1.38" stroke-linecap="round"/>
<path d="M320.92 140.4L320.38 140.47L319.82 140.87L319.26 141.58L318.76 142.54L318.34 143.68L318.03 144.94L317.86 146.23L317.84 147.45L317.96 148.53L318.22 149.38L318.6 149.96L319.08 150.23" fill="#f4f4f4" stroke="#0a0a0a" stroke-width="1.3" stroke-linecap="round" stroke-linejoin="round"/>
<polygon points="329.92,142.09 320.92,140.4 319.08,150.23 328.08,151.91" fill="url(#g28)"/>
<path d="M329.92 142.09L320.92 140.4" fill="none" stroke="#1c1c1c" stroke-width="1.09" stroke-linecap="round"/>
<path d="M328.08 151.91L319.08 150.23" fill="none" stroke="#0a0a0a" stroke-width="1.36" stroke-linecap="round"/>
<path d="M324.52 141.07L323.98 141.15L323.42 141.55L322.86 142.25L322.36 143.21L321.94 144.36L321.63 145.62L321.46 146.9L321.44 148.13L321.56 149.2L321.82 150.06L322.2 150.64L322.68 150.9" fill="none" stroke="#0a0a0a" stroke-width="1.3" stroke-linecap="round" stroke-linejoin="round"/>
<path d="M320.92 140.4L320.38 140.47L319.82 140.87L319.26 141.58L318.76 142.54L318.34 143.68L318.03 144.94L317.86 146.23L317.84 147.45L317.96 148.53L318.22 149.38L318.6 149.96L319.08 150.23" fill="none" stroke="#0a0a0a" stroke-width="1.3" stroke-linecap="round" stroke-linejoin="round"/>
<path d="M323.45 159.96L323.63 160.37L324.15 160.75L324.98 161.08L326.06 161.34L327.33 161.51L328.69 161.57L330.05 161.53L331.31 161.39L332.4 161.14L333.24 160.83L333.77 160.45L333.95 160.04" fill="#f4f4f4" stroke="#0a0a0a" stroke-width="1.3" stroke-linecap="round" stroke-linejoin="round"/>
<polygon points="323.55,147.96 323.45,159.96 333.95,160.04 334.05,148.04" fill="url(#g29)"/>
<path d="M323.55 147.96L323.45 159.96" fill="none" stroke="#1c1c1c" stroke-width="1.1" stroke-linecap="round"/>
<path d="M334.05 148.04L333.95 160.04" fill="none" stroke="#0a0a0a" stroke-width="1.37" stroke-linecap="round"/>
<path d="M323.45 159.96L323.63 160.37L324.15 160.75L324.98 161.08L326.06 161.34L327.33 161.51L328.69 161.57L330.05 161.53L331.31 161.39L332.4 161.14L333.24 160.83L333.77 160.45L333.95 160.04" fill="none" stroke="#0a0a0a" stroke-width="1.3" stroke-linecap="round" stroke-linejoin="round"/>
<path d="M343.17 140.87L343.46 140.41L343.52 139.72L343.33 138.84L342.92 137.84L342.31 136.78L341.55 135.73L340.68 134.78L339.76 133.97L338.86 133.37L338.03 133.02L337.34 132.93L336.83 133.13" fill="#f4f4f4" stroke="#0a0a0a" stroke-width="1.3" stroke-linecap="round" stroke-linejoin="round"/>
<polygon points="325.83,142.13 336.83,133.13 343.17,140.87 332.17,149.87" fill="url(#g30)"/>
<path d="M325.83 142.13L336.83 133.13" fill="none" stroke="#1c1c1c" stroke-width="1.09" stroke-linecap="round"/>
<path d="M332.17 149.87L343.17 140.87" fill="none" stroke="#0a0a0a" stroke-width="1.36" stroke-linecap="round"/>
<path d="M343.17 140.87L343.46 140.41L343.52 139.72L343.33 138.84L342.92 137.84L342.31 136.78L341.55 135.73L340.68 134.78L339.76 133.97L338.86 133.37L338.03 133.02L337.34 132.93L336.83 133.13" fill="none" stroke="#0a0a0a" stroke-width="1.3" stroke-linecap="round" stroke-linejoin="round"/>
<path d="M189.77 153.67L189.23 153.87L188.74 154.42L188.34 155.28L188.05 156.39L187.89 157.68L187.88 159.05L188.01 160.42L188.28 161.69L188.66 162.77L189.14 163.59L189.67 164.1L190.23 164.26" fill="#f4f4f4" stroke="#0a0a0a" stroke-width="1.3" stroke-linecap="round" stroke-linejoin="round"/>
<polygon points="202.77,153.1 189.77,153.67 190.23,164.26 203.23,163.7" fill="url(#g31)"/>
<path d="M202.77 153.1L189.77 153.67" fill="none" stroke="#1c1c1c" stroke-width="1.1" stroke-linecap="round"/>
<path d="M203.23 163.7L190.23 164.26" fill="none" stroke="#0a0a0a" stroke-width="1.37" stroke-linecap="round"/>
<path d="M195.62 153.41L195.08 153.62L194.59 154.17L194.19 155.03L193.9 156.14L193.74 157.43L193.73 158.8L193.86 160.17L194.13 161.44L194.51 162.52L194.99 163.34L195.52 163.85L196.08 164" fill="none" stroke="#0a0a0a" stroke-width="1.3" stroke-linecap="round" stroke-linejoin="round"/>
<path d="M189.77 153.67L189.23 153.87L188.74 154.42L188.34 155.28L188.05 156.39L187.89 157.68L187.88 159.05L188.01 160.42L188.28 161.69L188.66 162.77L189.14 163.59L189.67 164.1L190.23 164.26" fill="none" stroke="#0a0a0a" stroke-width="1.3" stroke-linecap="round" stroke-linejoin="round"/>
<path d="M218.44 161.2L218.96 160.98L219.42 160.42L219.78 159.56L220.02 158.46L220.12 157.19L220.07 155.85L219.89 154.51L219.57 153.28L219.15 152.23L218.65 151.45L218.11 150.97L217.56 150.84" fill="#f4f4f4" stroke="#0a0a0a" stroke-width="1.3" stroke-linecap="round" stroke-linejoin="round"/>
<polygon points="202.56,152.12 217.56,150.84 218.44,161.2 203.44,162.48" fill="url(#g32)"/>
<path d="M202.56 152.12L217.56 150.84" fill="none" stroke="#1c1c1c" stroke-width="1.1" stroke-linecap="round"/>
<path d="M203.44 162.48L218.44 161.2" fill="none" stroke="#0a0a0a" stroke-width="1.37" stroke-linecap="round"/>
<path d="M212.44 161.71L212.96 161.49L213.42 160.93L213.78 160.07L214.02 158.97L214.12 157.7L214.07 156.36L213.89 155.02L213.57 153.79L213.15 152.74L212.65 151.96L212.11 151.48L211.56 151.35" fill="none" stroke="#0a0a0a" stroke-width="1.3" stroke-linecap="round" stroke-linejoin="round"/>
<path d="M218.44 161.2L218.96 160.98L219.42 160.42L219.78 159.56L220.02 158.46L220.12 157.19L220.07 155.85L219.89 154.51L219.57 153.28L219.15 152.23L218.65 151.45L218.11 150.97L217.56 150.84" fill="none" stroke="#0a0a0a" stroke-width="1.3" stroke-linecap="round" stroke-linejoin="round"/>
<path d="M197.6 176.03L197.79 176.46L198.34 176.85L199.22 177.19L200.36 177.45L201.69 177.6L203.11 177.65L204.53 177.58L205.86 177.41L207 177.14L207.87 176.8L208.42 176.39L208.6 175.97" fill="#f4f4f4" stroke="#0a0a0a" stroke-width="1.3" stroke-linecap="round" stroke-linejoin="round"/>
<polygon points="197.5,160.03 197.6,176.03 208.6,175.97 208.5,159.97" fill="url(#g33)"/>
<path d="M197.5 160.03L197.6 176.03" fill="none" stroke="#1c1c1c" stroke-width="1.11" stroke-linecap="round"/>
<path d="M208.5 159.97L208.6 175.97" fill="none" stroke="#0a0a0a" stroke-width="1.39" stroke-linecap="round"/>
<path d="M197.6 176.03L197.79 176.46L198.34 176.85L199.22 177.19L200.36 177.45L201.69 177.6L203.11 177.65L204.53 177.58L205.86 177.41L207 177.14L207.87 176.8L208.42 176.39L208.6 175.97" fill="none" stroke="#0a0a0a" stroke-width="1.3" stroke-linecap="round" stroke-linejoin="round"/>
<path d="M323.5 153.3L342 154" fill="none" stroke="#111" stroke-width="3.6" stroke-linecap="round" stroke-linejoin="round"/>
<path d="M324 197L342 197.6" fill="none" stroke="#111" stroke-width="3.6" stroke-linecap="round" stroke-linejoin="round"/>
<path d="M324.5 239.3L333 239.6" fill="none" stroke="#111" stroke-width="3.4" stroke-linecap="round" stroke-linejoin="round"/>
<path d="M325.5 281.5L334 281.8" fill="none" stroke="#111" stroke-width="3.2" stroke-linecap="round" stroke-linejoin="round"/>
<path d="M325.5 321.5L334 321.8" fill="none" stroke="#111" stroke-width="2.8" stroke-linecap="round" stroke-linejoin="round"/>
<path d="M325.5 326.5L334 326.8" fill="none" stroke="#111" stroke-width="2.8" stroke-linecap="round" stroke-linejoin="round"/>
<path d="M335 130.5C331.5 136 331.5 143 334 151.5M336 131.5L342.5 153" fill="none" stroke="#111" stroke-width="2.6" stroke-linecap="round" stroke-linejoin="round"/>
<path d="M214.47 154.77L214.79 154.26L214.86 153.5L214.66 152.54L214.21 151.43L213.55 150.26L212.71 149.11L211.75 148.06L210.74 147.16L209.75 146.5L208.85 146.11L208.09 146.02L207.53 146.23" fill="#f4f4f4" stroke="#0a0a0a" stroke-width="1.3" stroke-linecap="round" stroke-linejoin="round"/>
<polygon points="199.53,152.73 207.53,146.23 214.47,154.77 206.47,161.27" fill="url(#g34)"/>
<path d="M199.53 152.73L207.53 146.23" fill="none" stroke="#1c1c1c" stroke-width="1.11" stroke-linecap="round"/>
<path d="M206.47 161.27L214.47 154.77" fill="none" stroke="#0a0a0a" stroke-width="1.39" stroke-linecap="round"/>
<path d="M214.47 154.77L214.79 154.26L214.86 153.5L214.66 152.54L214.21 151.43L213.55 150.26L212.71 149.11L211.75 148.06L210.74 147.16L209.75 146.5L208.85 146.11L208.09 146.02L207.53 146.23" fill="none" stroke="#0a0a0a" stroke-width="1.3" stroke-linecap="round" stroke-linejoin="round"/>
<polygon points="320.65,53.99 206.78,147.15 213.22,155.05 327.35,62.21" fill="url(#g35)"/>
<path d="M320.65 53.99L206.78 147.15" fill="none" stroke="#1c1c1c" stroke-width="1.1" stroke-linecap="round"/>
<path d="M327.35 62.21L213.22 155.05" fill="none" stroke="#0a0a0a" stroke-width="1.65" stroke-linecap="round"/>
<path d="M317.17 56.89L316.76 57.46L316.6 58.27L316.71 59.26L317.07 60.36L317.67 61.51L318.46 62.62L319.38 63.62L320.39 64.43L321.4 65.01L322.35 65.32L323.17 65.32L323.81 65.03" fill="none" stroke="#0a0a0a" stroke-width="1.3" stroke-linecap="round" stroke-linejoin="round"/>
<ellipse cx="497.2" cy="464" rx="12" ry="4.7" transform="rotate(10 497.2 464)" fill="#1c1c1c"/>
<path d="M491.86 464.99L492.03 465.44L492.54 465.86L493.37 466.24L494.46 466.55L495.73 466.76L497.1 466.87L498.47 466.86L499.76 466.73L500.86 466.5L501.72 466.18L502.26 465.79L502.46 465.36" fill="#fff" stroke="#0a0a0a" stroke-width="0.7" stroke-linecap="round" stroke-linejoin="round"/>
<polygon points="500,215.8 491.86,464.99 502.46,465.36 511.5,216.2" fill="url(#g36)"/>
<path d="M500 215.8L491.86 464.99" fill="none" stroke="#1c1c1c" stroke-width="1.11" stroke-linecap="round"/>
<path d="M511.5 216.2L502.46 465.36" fill="none" stroke="#0a0a0a" stroke-width="1.39" stroke-linecap="round"/>
<polygon points="522.87,183.69 607.95,166.86 610.05,177.25 525.13,194.86" fill="url(#g37)"/>
<path d="M522.87 183.69L607.95 166.86" fill="none" stroke="#1c1c1c" stroke-width="1.11" stroke-linecap="round"/>
<path d="M525.13 194.86L610.05 177.25" fill="none" stroke="#0a0a0a" stroke-width="1.67" stroke-linecap="round"/>
<polygon points="351.55,216.77 495.79,188.77 498.21,200.73 354.45,231.08" fill="url(#g38)"/>
<path d="M351.55 216.77L495.79 188.77" fill="none" stroke="#1c1c1c" stroke-width="1.17" stroke-linecap="round"/>
<path d="M354.45 231.08L498.21 200.73" fill="none" stroke="#0a0a0a" stroke-width="1.75" stroke-linecap="round"/>
<path d="M632.25 172.95L632.79 172.68L633.24 172.07L633.57 171.14L633.76 169.96L633.8 168.62L633.68 167.2L633.41 165.8L633.01 164.51L632.51 163.43L631.94 162.63L631.34 162.16L630.75 162.05" fill="#f4f4f4" stroke="#0a0a0a" stroke-width="1.3" stroke-linecap="round" stroke-linejoin="round"/>
<polygon points="616.25,164.05 630.75,162.05 632.25,172.95 617.75,174.95" fill="url(#g39)"/>
<path d="M616.25 164.05L630.75 162.05" fill="none" stroke="#1c1c1c" stroke-width="1.11" stroke-linecap="round"/>
<path d="M617.75 174.95L632.25 172.95" fill="none" stroke="#0a0a0a" stroke-width="1.39" stroke-linecap="round"/>
<path d="M625 173.95L625.54 173.68L625.99 173.07L626.32 172.14L626.51 170.96L626.55 169.62L626.43 168.2L626.16 166.8L625.76 165.51L625.26 164.43L624.69 163.63L624.09 163.16L623.5 163.05" fill="none" stroke="#0a0a0a" stroke-width="1.3" stroke-linecap="round" stroke-linejoin="round"/>
<path d="M632.25 172.95L632.79 172.68L633.24 172.07L633.57 171.14L633.76 169.96L633.8 168.62L633.68 167.2L633.41 165.8L633.01 164.51L632.51 163.43L631.94 162.63L631.34 162.16L630.75 162.05" fill="none" stroke="#0a0a0a" stroke-width="1.3" stroke-linecap="round" stroke-linejoin="round"/>
<path d="M610.85 188.88L611.04 189.33L611.6 189.76L612.51 190.13L613.69 190.43L615.08 190.63L616.56 190.72L618.05 190.7L619.44 190.55L620.64 190.31L621.56 189.97L622.14 189.56L622.35 189.12" fill="#f4f4f4" stroke="#0a0a0a" stroke-width="1.3" stroke-linecap="round" stroke-linejoin="round"/>
<polygon points="611.25,169.88 610.85,188.88 622.35,189.12 622.75,170.12" fill="url(#g40)"/>
<path d="M611.25 169.88L610.85 188.88" fill="none" stroke="#1c1c1c" stroke-width="1.12" stroke-linecap="round"/>
<path d="M622.75 170.12L622.35 189.12" fill="none" stroke="#0a0a0a" stroke-width="1.4" stroke-linecap="round"/>
<path d="M610.85 188.88L611.04 189.33L611.6 189.76L612.51 190.13L613.69 190.43L615.08 190.63L616.56 190.72L618.05 190.7L619.44 190.55L620.64 190.31L621.56 189.97L622.14 189.56L622.35 189.12" fill="none" stroke="#0a0a0a" stroke-width="1.3" stroke-linecap="round" stroke-linejoin="round"/>
<path d="M607.35 154.02L606.75 153.84L605.96 153.98L605.04 154.45L604.05 155.2L603.06 156.2L602.13 157.36L601.33 158.62L600.71 159.88L600.31 161.06L600.17 162.08L600.28 162.87L600.65 163.38" fill="#f4f4f4" stroke="#0a0a0a" stroke-width="1.3" stroke-linecap="round" stroke-linejoin="round"/>
<polygon points="620.35,163.32 607.35,154.02 600.65,163.38 613.65,172.68" fill="url(#g41)"/>
<path d="M620.35 163.32L607.35 154.02" fill="none" stroke="#1c1c1c" stroke-width="1.12" stroke-linecap="round"/>
<path d="M613.65 172.68L600.65 163.38" fill="none" stroke="#0a0a0a" stroke-width="1.4" stroke-linecap="round"/>
<path d="M607.35 154.02L606.75 153.84L605.96 153.98L605.04 154.45L604.05 155.2L603.06 156.2L602.13 157.36L601.33 158.62L600.71 159.88L600.31 161.06L600.17 162.08L600.28 162.87L600.65 163.38" fill="none" stroke="#0a0a0a" stroke-width="1.3" stroke-linecap="round" stroke-linejoin="round"/>
<path d="M607.97 166.96L608.6 167.01L609.25 167.41L609.89 168.12L610.47 169.11L610.95 170.29L611.29 171.59L611.48 172.93L611.5 174.2L611.35 175.33L611.04 176.24L610.59 176.86L610.03 177.15" fill="none" stroke="#0a0a0a" stroke-width="1.3" stroke-linecap="round" stroke-linejoin="round"/>
<path d="M525.61 195.38L526.22 195.05L526.7 194.32L527.04 193.25L527.21 191.89L527.18 190.35L526.98 188.73L526.61 187.14L526.09 185.69L525.47 184.48L524.78 183.58L524.07 183.07L523.39 182.98" fill="#f4f4f4" stroke="#0a0a0a" stroke-width="1.3" stroke-linecap="round" stroke-linejoin="round"/>
<polygon points="504.89,186.3 523.39,182.98 525.61,195.38 507.11,198.7" fill="url(#g42)"/>
<path d="M504.89 186.3L523.39 182.98" fill="none" stroke="#1c1c1c" stroke-width="1.15" stroke-linecap="round"/>
<path d="M507.11 198.7L525.61 195.38" fill="none" stroke="#0a0a0a" stroke-width="1.43" stroke-linecap="round"/>
<path d="M517.29 196.87L517.89 196.55L518.38 195.82L518.72 194.74L518.88 193.39L518.86 191.85L518.66 190.23L518.28 188.64L517.77 187.19L517.14 185.97L516.45 185.08L515.74 184.57L515.06 184.47" fill="none" stroke="#0a0a0a" stroke-width="1.3" stroke-linecap="round" stroke-linejoin="round"/>
<path d="M525.61 195.38L526.22 195.05L526.7 194.32L527.04 193.25L527.21 191.89L527.18 190.35L526.98 188.73L526.61 187.14L526.09 185.69L525.47 184.48L524.78 183.58L524.07 183.07L523.39 182.98" fill="none" stroke="#0a0a0a" stroke-width="1.3" stroke-linecap="round" stroke-linejoin="round"/>
<path d="M498.7 215.94L498.94 216.49L499.64 217.01L500.77 217.46L502.23 217.81L503.94 218.04L505.78 218.13L507.62 218.07L509.33 217.88L510.81 217.55L511.94 217.12L512.65 216.61L512.9 216.06" fill="#f4f4f4" stroke="#0a0a0a" stroke-width="1.3" stroke-linecap="round" stroke-linejoin="round"/>
<polygon points="498.9,192.94 498.7,215.94 512.9,216.06 513.1,193.06" fill="url(#g43)"/>
<path d="M498.9 192.94L498.7 215.94" fill="none" stroke="#1c1c1c" stroke-width="1.17" stroke-linecap="round"/>
<path d="M513.1 193.06L512.9 216.06" fill="none" stroke="#0a0a0a" stroke-width="1.46" stroke-linecap="round"/>
<path d="M498.7 215.94L498.94 216.49L499.64 217.01L500.77 217.46L502.23 217.81L503.94 218.04L505.78 218.13L507.62 218.07L509.33 217.88L510.81 217.55L511.94 217.12L512.65 216.61L512.9 216.06" fill="none" stroke="#0a0a0a" stroke-width="1.3" stroke-linecap="round" stroke-linejoin="round"/>
<polygon points="336.5,49.43 493.44,174.39 485.56,184.21 329.5,58.17" fill="url(#g44)"/>
<path d="M336.5 49.43L493.44 174.39" fill="none" stroke="#1c1c1c" stroke-width="1.13" stroke-linecap="round"/>
<path d="M329.5 58.17L485.56 184.21" fill="none" stroke="#0a0a0a" stroke-width="1.41" stroke-linecap="round"/>
<path d="M493.32 173.51L492.62 173.24L491.67 173.37L490.54 173.86L489.3 174.7L488.04 175.83L486.85 177.16L485.81 178.62L484.98 180.09L484.43 181.48L484.19 182.69L484.28 183.64L484.69 184.27" fill="#f4f4f4" stroke="#0a0a0a" stroke-width="1.3" stroke-linecap="round" stroke-linejoin="round"/>
<polygon points="509.32,186.33 493.32,173.51 484.69,184.27 500.68,197.1" fill="url(#g45)"/>
<path d="M509.32 186.33L493.32 173.51" fill="none" stroke="#1c1c1c" stroke-width="1.17" stroke-linecap="round"/>
<path d="M500.68 197.1L484.69 184.27" fill="none" stroke="#0a0a0a" stroke-width="1.46" stroke-linecap="round"/>
<path d="M502.12 180.56L501.41 180.3L500.46 180.42L499.33 180.92L498.1 181.76L496.84 182.88L495.65 184.22L494.61 185.67L493.78 187.14L493.23 188.53L492.99 189.74L493.08 190.7L493.49 191.33" fill="none" stroke="#0a0a0a" stroke-width="1.3" stroke-linecap="round" stroke-linejoin="round"/>
<path d="M493.32 173.51L492.62 173.24L491.67 173.37L490.54 173.86L489.3 174.7L488.04 175.83L486.85 177.16L485.81 178.62L484.98 180.09L484.43 181.48L484.19 182.69L484.28 183.64L484.69 184.27" fill="none" stroke="#0a0a0a" stroke-width="1.3" stroke-linecap="round" stroke-linejoin="round"/>
<path d="M495.85 189.06L496.55 189.12L497.28 189.57L497.99 190.36L498.64 191.46L499.17 192.78L499.56 194.23L499.77 195.72L499.79 197.14L499.62 198.4L499.28 199.41L498.77 200.1L498.15 200.43" fill="none" stroke="#0a0a0a" stroke-width="1.3" stroke-linecap="round" stroke-linejoin="round"/>
<polygon points="504.82,186.91 496.82,188.46 499.18,200.63 507.18,199.09" fill="url(#g46)"/>
<path d="M504.82 186.91L496.82 188.46" fill="none" stroke="#1c1c1c" stroke-width="1.15" stroke-linecap="round"/>
<path d="M507.18 199.09L499.18 200.63" fill="none" stroke="#0a0a0a" stroke-width="1.43" stroke-linecap="round"/>
<path d="M495.77 188.67L496.52 188.73L497.3 189.21L498.06 190.06L498.75 191.23L499.32 192.64L499.73 194.19L499.96 195.79L499.98 197.31L499.8 198.65L499.43 199.73L498.9 200.47L498.23 200.82" fill="none" stroke="#0a0a0a" stroke-width="1.3" stroke-linecap="round" stroke-linejoin="round"/>
<polygon points="132.25,56.56 33.25,162.56 42.75,171.44 141.75,65.44" fill="url(#g47)"/>
<path d="M132.25 56.56L33.25 162.56" fill="none" stroke="#1c1c1c" stroke-width="1.16" stroke-linecap="round"/>
<path d="M141.75 65.44L42.75 171.44" fill="none" stroke="#0a0a0a" stroke-width="1.74" stroke-linecap="round"/>
<ellipse cx="343.4" cy="558.3" rx="13.9" ry="5.4" transform="rotate(12 343.4 558.3)" fill="#1c1c1c"/>
<path d="M336.42 559.76L336.67 560.34L337.38 560.87L338.5 561.31L339.95 561.64L341.64 561.84L343.46 561.89L345.27 561.78L346.95 561.53L348.4 561.16L349.5 560.67L350.19 560.12L350.42 559.54" fill="#fff" stroke="#0a0a0a" stroke-width="0.7" stroke-linecap="round" stroke-linejoin="round"/>
<polygon points="330.95,255.12 336.42,559.76 350.42,559.54 346.25,254.88" fill="url(#g48)"/>
<path d="M330.95 255.12L336.42 559.76" fill="none" stroke="#1c1c1c" stroke-width="1.17" stroke-linecap="round"/>
<path d="M346.25 254.88L350.42 559.54" fill="none" stroke="#0a0a0a" stroke-width="1.46" stroke-linecap="round"/>
<path d="M51.93 179.24L52.51 179L53.02 178.39L53.42 177.44L53.7 176.22L53.83 174.82L53.79 173.33L53.6 171.86L53.27 170.49L52.82 169.33L52.28 168.45L51.68 167.92L51.07 167.77" fill="#f4f4f4" stroke="#0a0a0a" stroke-width="1.3" stroke-linecap="round" stroke-linejoin="round"/>
<polygon points="31.07,169.27 51.07,167.77 51.93,179.24 31.93,180.73" fill="url(#g49)"/>
<path d="M31.07 169.27L51.07 167.77" fill="none" stroke="#1c1c1c" stroke-width="1.12" stroke-linecap="round"/>
<path d="M31.93 180.73L51.93 179.24" fill="none" stroke="#0a0a0a" stroke-width="1.4" stroke-linecap="round"/>
<path d="M41.93 179.99L42.51 179.75L43.02 179.13L43.42 178.19L43.7 176.97L43.83 175.57L43.79 174.08L43.6 172.6L43.27 171.24L42.82 170.08L42.28 169.2L41.68 168.67L41.07 168.52" fill="none" stroke="#0a0a0a" stroke-width="1.3" stroke-linecap="round" stroke-linejoin="round"/>
<path d="M51.93 179.24L52.51 179L53.02 178.39L53.42 177.44L53.7 176.22L53.83 174.82L53.79 173.33L53.6 171.86L53.27 170.49L52.82 169.33L52.28 168.45L51.68 167.92L51.07 167.77" fill="none" stroke="#0a0a0a" stroke-width="1.3" stroke-linecap="round" stroke-linejoin="round"/>
<path d="M24.8 195.25L25.04 195.74L25.7 196.17L26.73 196.53L28.07 196.79L29.62 196.92L31.27 196.92L32.93 196.79L34.46 196.54L35.77 196.18L36.78 195.74L37.4 195.26L37.6 194.75" fill="#f4f4f4" stroke="#0a0a0a" stroke-width="1.3" stroke-linecap="round" stroke-linejoin="round"/>
<polygon points="24.1,177.25 24.8,195.25 37.6,194.75 36.9,176.75" fill="url(#g50)"/>
<path d="M24.1 177.25L24.8 195.25" fill="none" stroke="#1c1c1c" stroke-width="1.15" stroke-linecap="round"/>
<path d="M36.9 176.75L37.6 194.75" fill="none" stroke="#0a0a0a" stroke-width="1.44" stroke-linecap="round"/>
<path d="M24.8 195.25L25.04 195.74L25.7 196.17L26.73 196.53L28.07 196.79L29.62 196.92L31.27 196.92L32.93 196.79L34.46 196.54L35.77 196.18L36.78 195.74L37.4 195.26L37.6 194.75" fill="none" stroke="#0a0a0a" stroke-width="1.3" stroke-linecap="round" stroke-linejoin="round"/>
<path d="M42.17 172.53L42.48 171.86L42.43 170.91L42.03 169.76L41.29 168.49L40.28 167.17L39.06 165.9L37.71 164.77L36.32 163.85L35 163.2L33.82 162.87L32.88 162.89L32.23 163.25" fill="#f4f4f4" stroke="#0a0a0a" stroke-width="1.3" stroke-linecap="round" stroke-linejoin="round"/>
<polygon points="26.43,169.46 32.23,163.25 42.17,172.53 36.37,178.74" fill="url(#g51)"/>
<path d="M26.43 169.46L32.23 163.25" fill="none" stroke="#1c1c1c" stroke-width="1.17" stroke-linecap="round"/>
<path d="M36.37 178.74L42.17 172.53" fill="none" stroke="#0a0a0a" stroke-width="1.46" stroke-linecap="round"/>
<path d="M39.56 175.32L39.87 174.65L39.82 173.71L39.42 172.56L38.68 171.28L37.67 169.96L36.45 168.69L35.1 167.56L33.71 166.64L32.39 166L31.21 165.67L30.27 165.69L29.62 166.04" fill="none" stroke="#0a0a0a" stroke-width="1.3" stroke-linecap="round" stroke-linejoin="round"/>
<path d="M42.17 172.53L42.48 171.86L42.43 170.91L42.03 169.76L41.29 168.49L40.28 167.17L39.06 165.9L37.71 164.77L36.32 163.85L35 163.2L33.82 162.87L32.88 162.89L32.23 163.25" fill="none" stroke="#0a0a0a" stroke-width="1.3" stroke-linecap="round" stroke-linejoin="round"/>
<polygon points="132.25,56.56 32.11,163.82 41.61,172.69 141.75,65.44" fill="url(#g52)"/>
<path d="M132.25 56.56L32.11 163.82" fill="none" stroke="#1c1c1c" stroke-width="1.16" stroke-linecap="round"/>
<path d="M141.75 65.44L41.61 172.69" fill="none" stroke="#0a0a0a" stroke-width="1.74" stroke-linecap="round"/>
<path d="M26.2 169.6Q23.2 172.6 24.1 178L31 178L31 172Z" fill="#f6f6f6"/>
<path d="M26.4 169.4Q23.2 172.6 24.1 178" fill="none" stroke="#0a0a0a" stroke-width="1.3" stroke-linecap="round"/>
<path d="M363.2 230.29L364.01 230L364.75 229.2L365.37 227.92L365.84 226.28L366.1 224.36L366.16 222.32L366 220.28L365.64 218.38L365.09 216.76L364.41 215.52L363.63 214.75L362.8 214.5" fill="#f4f4f4" stroke="#0a0a0a" stroke-width="1.3" stroke-linecap="round" stroke-linejoin="round"/>
<polygon points="338.8,215.1 362.8,214.5 363.2,230.29 339.2,230.9" fill="url(#g53)"/>
<path d="M338.8 215.1L362.8 214.5" fill="none" stroke="#1c1c1c" stroke-width="1.17" stroke-linecap="round"/>
<path d="M339.2 230.9L363.2 230.29" fill="none" stroke="#0a0a0a" stroke-width="1.46" stroke-linecap="round"/>
<path d="M353.6 230.54L354.41 230.25L355.15 229.44L355.77 228.17L356.24 226.52L356.5 224.6L356.56 222.56L356.4 220.52L356.04 218.62L355.49 217L354.81 215.76L354.03 214.99L353.2 214.74" fill="none" stroke="#0a0a0a" stroke-width="1.3" stroke-linecap="round" stroke-linejoin="round"/>
<path d="M363.2 230.29L364.01 230L364.75 229.2L365.37 227.92L365.84 226.28L366.1 224.36L366.16 222.32L366 220.28L365.64 218.38L365.09 216.76L364.41 215.52L363.63 214.75L362.8 214.5" fill="none" stroke="#0a0a0a" stroke-width="1.3" stroke-linecap="round" stroke-linejoin="round"/>
<path d="M330.5 255.09L330.78 255.72L331.6 256.29L332.89 256.78L334.57 257.15L336.53 257.37L338.63 257.43L340.72 257.32L342.67 257.06L344.35 256.65L345.63 256.14L346.43 255.54L346.7 254.91" fill="#f4f4f4" stroke="#0a0a0a" stroke-width="1.3" stroke-linecap="round" stroke-linejoin="round"/>
<polygon points="330.1,219.09 330.5,255.09 346.7,254.91 346.3,218.91" fill="url(#g54)"/>
<path d="M330.1 219.09L330.5 255.09" fill="none" stroke="#1c1c1c" stroke-width="1.17" stroke-linecap="round"/>
<path d="M346.3 218.91L346.7 254.91" fill="none" stroke="#0a0a0a" stroke-width="1.46" stroke-linecap="round"/>
<path d="M330.5 255.09L330.78 255.72L331.6 256.29L332.89 256.78L334.57 257.15L336.53 257.37L338.63 257.43L340.72 257.32L342.67 257.06L344.35 256.65L345.63 256.14L346.43 255.54L346.7 254.91" fill="none" stroke="#0a0a0a" stroke-width="1.3" stroke-linecap="round" stroke-linejoin="round"/>
<polygon points="156.4,50.72 325.81,205.53 315.93,216.27 147.6,60.28" fill="url(#g55)"/>
<path d="M156.4 50.72L325.81 205.53" fill="none" stroke="#1c1c1c" stroke-width="1.17" stroke-linecap="round"/>
<path d="M147.6 60.28L315.93 216.27" fill="none" stroke="#0a0a0a" stroke-width="1.46" stroke-linecap="round"/>
<path d="M325.55 204.33L324.76 203.97L323.65 204.04L322.3 204.53L320.8 205.4L319.26 206.6L317.78 208.05L316.46 209.65L315.39 211.29L314.64 212.85L314.27 214.24L314.29 215.35L314.72 216.11" fill="#f4f4f4" stroke="#0a0a0a" stroke-width="1.3" stroke-linecap="round" stroke-linejoin="round"/>
<polygon points="342.92,220.31 325.55,204.33 314.72,216.11 332.08,232.09" fill="url(#g56)"/>
<path d="M342.92 220.31L325.55 204.33" fill="none" stroke="#1c1c1c" stroke-width="1.17" stroke-linecap="round"/>
<path d="M332.08 232.09L314.72 216.11" fill="none" stroke="#0a0a0a" stroke-width="1.46" stroke-linecap="round"/>
<path d="M334.76 212.8L333.96 212.44L332.85 212.51L331.5 213L330.01 213.87L328.47 215.07L326.98 216.52L325.66 218.12L324.59 219.76L323.84 221.32L323.47 222.71L323.5 223.82L323.92 224.58" fill="none" stroke="#0a0a0a" stroke-width="1.3" stroke-linecap="round" stroke-linejoin="round"/>
<path d="M325.55 204.33L324.76 203.97L323.65 204.04L322.3 204.53L320.8 205.4L319.26 206.6L317.78 208.05L316.46 209.65L315.39 211.29L314.64 212.85L314.27 214.24L314.29 215.35L314.72 216.11" fill="none" stroke="#0a0a0a" stroke-width="1.3" stroke-linecap="round" stroke-linejoin="round"/>
<path d="M329.2 229.2Q337 223 345.4 222.6" fill="none" stroke="#0a0a0a" stroke-width="1" stroke-dasharray="1.6 1.2"/>
<path d="M128.09 58.31L127.78 58.98L127.84 59.92L128.26 61.07L129 62.34L130.03 63.65L131.26 64.91L132.62 66.03L134.02 66.93L135.35 67.57L136.52 67.88L137.47 67.86L138.11 67.49" fill="#f4f4f4" stroke="#0a0a0a" stroke-width="1.3" stroke-linecap="round" stroke-linejoin="round"/>
<polygon points="142.29,42.81 128.09,58.31 138.11,67.49 152.31,51.99" fill="url(#g57)"/>
<path d="M142.29 42.81L128.09 58.31" fill="none" stroke="#1c1c1c" stroke-width="1.17" stroke-linecap="round"/>
<path d="M152.31 51.99L138.11 67.49" fill="none" stroke="#0a0a0a" stroke-width="1.46" stroke-linecap="round"/>
<path d="M134.48 51.33L134.17 52.01L134.23 52.95L134.65 54.1L135.39 55.37L136.42 56.67L137.65 57.93L139.01 59.05L140.41 59.96L141.74 60.59L142.91 60.91L143.86 60.88L144.5 60.52" fill="none" stroke="#0a0a0a" stroke-width="1.3" stroke-linecap="round" stroke-linejoin="round"/>
<path d="M128.09 58.31L127.78 58.98L127.84 59.92L128.26 61.07L129 62.34L130.03 63.65L131.26 64.91L132.62 66.03L134.02 66.93L135.35 67.57L136.52 67.88L137.47 67.86L138.11 67.49" fill="none" stroke="#0a0a0a" stroke-width="1.3" stroke-linecap="round" stroke-linejoin="round"/>
<path d="M141.8 43.4L144.5 41.3L152 42.6L150 50Z" fill="#f4f4f4"/>
<path d="M142 43.6L144.5 41.3L152 42.7" fill="none" stroke="#0a0a0a" stroke-width="1.3" stroke-linejoin="round" stroke-linecap="round"/>
<path d="M169.93 56.34L170.63 56.12L171.3 55.45L171.87 54.37L172.32 52.97L172.61 51.33L172.72 49.57L172.65 47.81L172.39 46.17L171.97 44.75L171.42 43.67L170.77 42.98L170.07 42.74" fill="#f4f4f4" stroke="#0a0a0a" stroke-width="1.3" stroke-linecap="round" stroke-linejoin="round"/>
<polygon points="147.07,42.5 170.07,42.74 169.93,56.34 146.93,56.1" fill="url(#g58)"/>
<path d="M147.07 42.5L170.07 42.74" fill="none" stroke="#1c1c1c" stroke-width="1.17" stroke-linecap="round"/>
<path d="M146.93 56.1L169.93 56.34" fill="none" stroke="#0a0a0a" stroke-width="1.46" stroke-linecap="round"/>
<path d="M169.93 56.34L170.63 56.12L171.3 55.45L171.87 54.37L172.32 52.97L172.61 51.33L172.72 49.57L172.65 47.81L172.39 46.17L171.97 44.75L171.42 43.67L170.77 42.98L170.07 42.74" fill="none" stroke="#0a0a0a" stroke-width="1.3" stroke-linecap="round" stroke-linejoin="round"/>
<polygon points="156.4,50.72 178.56,70.94 169.59,80.69 147.6,60.28" fill="url(#g59)"/>
<path d="M156.4 50.72L178.56 70.94" fill="none" stroke="#1c1c1c" stroke-width="1.16" stroke-linecap="round"/>
<path d="M147.6 60.28L169.59 80.69" fill="none" stroke="#0a0a0a" stroke-width="1.45" stroke-linecap="round"/>
<path d="M147.6 60.28L147.13 59.55L146.99 58.54L147.2 57.33L147.73 55.99L148.55 54.61L149.61 53.3L150.83 52.14L152.13 51.2L153.42 50.56L154.62 50.26L155.63 50.31L156.4 50.72" fill="#fff" stroke="#0a0a0a" stroke-width="1.3" stroke-linecap="round" stroke-linejoin="round"/>
<path d="M318.08 45.09L317.43 45.29L316.82 45.91L316.29 46.9L315.87 48.19L315.6 49.69L315.5 51.31L315.57 52.93L315.8 54.44L316.18 55.74L316.68 56.73L317.28 57.37L317.92 57.59" fill="#f4f4f4" stroke="#0a0a0a" stroke-width="1.3" stroke-linecap="round" stroke-linejoin="round"/>
<polygon points="330.08,45.23 318.08,45.09 317.92,57.59 329.92,57.73" fill="url(#g60)"/>
<path d="M330.08 45.23L318.08 45.09" fill="none" stroke="#1c1c1c" stroke-width="1.15" stroke-linecap="round"/>
<path d="M329.92 57.73L317.92 57.59" fill="none" stroke="#0a0a0a" stroke-width="1.43" stroke-linecap="round"/>
<path d="M322.88 45.15L322.23 45.35L321.62 45.97L321.09 46.96L320.67 48.24L320.4 49.75L320.3 51.37L320.37 52.98L320.6 54.49L320.98 55.79L321.48 56.79L322.08 57.42L322.72 57.65" fill="none" stroke="#0a0a0a" stroke-width="1.3" stroke-linecap="round" stroke-linejoin="round"/>
<path d="M318.08 45.09L317.43 45.29L316.82 45.91L316.29 46.9L315.87 48.19L315.6 49.69L315.5 51.31L315.57 52.93L315.8 54.44L316.18 55.74L316.68 56.73L317.28 57.37L317.92 57.59" fill="none" stroke="#0a0a0a" stroke-width="1.3" stroke-linecap="round" stroke-linejoin="round"/>
<path d="M346.92 57.94L347.57 57.73L348.18 57.12L348.71 56.13L349.13 54.84L349.4 53.34L349.5 51.72L349.43 50.1L349.2 48.59L348.82 47.29L348.32 46.29L347.72 45.66L347.08 45.44" fill="#f4f4f4" stroke="#0a0a0a" stroke-width="1.3" stroke-linecap="round" stroke-linejoin="round"/>
<polygon points="330.08,45.23 347.08,45.44 346.92,57.94 329.92,57.73" fill="url(#g61)"/>
<path d="M330.08 45.23L347.08 45.44" fill="none" stroke="#1c1c1c" stroke-width="1.15" stroke-linecap="round"/>
<path d="M329.92 57.73L346.92 57.94" fill="none" stroke="#0a0a0a" stroke-width="1.43" stroke-linecap="round"/>
<path d="M340.97 57.87L341.62 57.66L342.23 57.04L342.76 56.06L343.18 54.77L343.45 53.26L343.55 51.65L343.48 50.03L343.25 48.52L342.87 47.22L342.37 46.22L341.77 45.59L341.13 45.37" fill="none" stroke="#0a0a0a" stroke-width="1.3" stroke-linecap="round" stroke-linejoin="round"/>
<path d="M346.92 57.94L347.57 57.73L348.18 57.12L348.71 56.13L349.13 54.84L349.4 53.34L349.5 51.72L349.43 50.1L349.2 48.59L348.82 47.29L348.32 46.29L347.72 45.66L347.08 45.44" fill="none" stroke="#0a0a0a" stroke-width="1.3" stroke-linecap="round" stroke-linejoin="round"/>
<polygon points="336.5,49.43 356.07,64.99 348.94,73.89 329.5,58.17" fill="url(#g62)"/>
<path d="M336.5 49.43L356.07 64.99" fill="none" stroke="#1c1c1c" stroke-width="1.12" stroke-linecap="round"/>
<path d="M329.5 58.17L348.94 73.89" fill="none" stroke="#0a0a0a" stroke-width="1.39" stroke-linecap="round"/>
<path d="M329.5 58.17L329.05 57.57L328.87 56.71L328.98 55.65L329.36 54.47L329.98 53.24L330.82 52.05L331.8 50.98L332.86 50.1L333.93 49.47L334.94 49.14L335.82 49.13L336.5 49.43" fill="#fff" stroke="#0a0a0a" stroke-width="1.3" stroke-linecap="round" stroke-linejoin="round"/>
<path d="M446.06 47.94L445.55 48.11L445.06 48.59L444.64 49.38L444.32 50.4L444.1 51.59L444.02 52.87L444.07 54.15L444.26 55.34L444.56 56.37L444.96 57.16L445.43 57.66L445.94 57.84" fill="#f4f4f4" stroke="#0a0a0a" stroke-width="1.3" stroke-linecap="round" stroke-linejoin="round"/>
<polygon points="458.06,48.09 446.06,47.94 445.94,57.84 457.94,57.98" fill="url(#g63)"/>
<path d="M458.06 48.09L446.06 47.94" fill="none" stroke="#1c1c1c" stroke-width="1.09" stroke-linecap="round"/>
<path d="M457.94 57.98L445.94 57.84" fill="none" stroke="#0a0a0a" stroke-width="1.35" stroke-linecap="round"/>
<path d="M450.86 48L450.35 48.16L449.86 48.65L449.44 49.43L449.12 50.45L448.9 51.64L448.82 52.92L448.87 54.2L449.06 55.4L449.36 56.43L449.76 57.22L450.23 57.72L450.74 57.89" fill="none" stroke="#0a0a0a" stroke-width="1.3" stroke-linecap="round" stroke-linejoin="round"/>
<path d="M446.06 47.94L445.55 48.11L445.06 48.59L444.64 49.38L444.32 50.4L444.1 51.59L444.02 52.87L444.07 54.15L444.26 55.34L444.56 56.37L444.96 57.16L445.43 57.66L445.94 57.84" fill="none" stroke="#0a0a0a" stroke-width="1.3" stroke-linecap="round" stroke-linejoin="round"/>
<path d="M471.94 58.15L472.45 57.99L472.94 57.5L473.36 56.72L473.68 55.7L473.9 54.51L473.98 53.23L473.93 51.95L473.74 50.75L473.44 49.72L473.04 48.93L472.57 48.43L472.06 48.26" fill="#f4f4f4" stroke="#0a0a0a" stroke-width="1.3" stroke-linecap="round" stroke-linejoin="round"/>
<polygon points="458.06,48.09 472.06,48.26 471.94,58.15 457.94,57.98" fill="url(#g64)"/>
<path d="M458.06 48.09L472.06 48.26" fill="none" stroke="#1c1c1c" stroke-width="1.09" stroke-linecap="round"/>
<path d="M457.94 57.98L471.94 58.15" fill="none" stroke="#0a0a0a" stroke-width="1.35" stroke-linecap="round"/>
<path d="M467.04 58.09L467.55 57.93L468.04 57.44L468.46 56.66L468.78 55.64L469 54.45L469.08 53.17L469.03 51.89L468.84 50.69L468.54 49.67L468.14 48.87L467.67 48.37L467.16 48.2" fill="none" stroke="#0a0a0a" stroke-width="1.3" stroke-linecap="round" stroke-linejoin="round"/>
<path d="M471.94 58.15L472.45 57.99L472.94 57.5L473.36 56.72L473.68 55.7L473.9 54.51L473.98 53.23L473.93 51.95L473.74 50.75L473.44 49.72L473.04 48.93L472.57 48.43L472.06 48.26" fill="none" stroke="#0a0a0a" stroke-width="1.3" stroke-linecap="round" stroke-linejoin="round"/>
<polygon points="464.63,53.85 484.96,68.4 479.58,75.86 459.37,61.15" fill="url(#g65)"/>
<path d="M464.63 53.85L484.96 68.4" fill="none" stroke="#1c1c1c" stroke-width="1.07" stroke-linecap="round"/>
<path d="M459.37 61.15L479.58 75.86" fill="none" stroke="#0a0a0a" stroke-width="1.33" stroke-linecap="round"/>
<path d="M459.37 61.15L458.98 60.68L458.81 60L458.85 59.15L459.1 58.18L459.56 57.17L460.18 56.18L460.92 55.28L461.74 54.54L462.57 53.99L463.37 53.68L464.07 53.63L464.63 53.85" fill="#fff" stroke="#0a0a0a" stroke-width="1.3" stroke-linecap="round" stroke-linejoin="round"/>
<path d="M542.06 49.46L541.58 49.61L541.13 50.06L540.74 50.79L540.44 51.74L540.24 52.84L540.16 54.03L540.21 55.22L540.38 56.33L540.66 57.29L541.03 58.02L541.47 58.49L541.94 58.65" fill="#f4f4f4" stroke="#0a0a0a" stroke-width="1.3" stroke-linecap="round" stroke-linejoin="round"/>
<polygon points="551.06,49.57 542.06,49.46 541.94,58.65 550.94,58.76" fill="url(#g66)"/>
<path d="M551.06 49.57L542.06 49.46" fill="none" stroke="#1c1c1c" stroke-width="1.07" stroke-linecap="round"/>
<path d="M550.94 58.76L541.94 58.65" fill="none" stroke="#0a0a0a" stroke-width="1.34" stroke-linecap="round"/>
<path d="M545.66 49.5L545.18 49.65L544.73 50.11L544.34 50.83L544.04 51.78L543.84 52.89L543.76 54.08L543.81 55.27L543.98 56.38L544.26 57.33L544.63 58.07L545.07 58.53L545.54 58.69" fill="none" stroke="#0a0a0a" stroke-width="1.3" stroke-linecap="round" stroke-linejoin="round"/>
<path d="M542.06 49.46L541.58 49.61L541.13 50.06L540.74 50.79L540.44 51.74L540.24 52.84L540.16 54.03L540.21 55.22L540.38 56.33L540.66 57.29L541.03 58.02L541.47 58.49L541.94 58.65" fill="none" stroke="#0a0a0a" stroke-width="1.3" stroke-linecap="round" stroke-linejoin="round"/>
<path d="M560.94 58.88L561.42 58.73L561.87 58.28L562.26 57.55L562.56 56.6L562.76 55.5L562.84 54.31L562.79 53.12L562.62 52.01L562.34 51.05L561.97 50.32L561.53 49.85L561.06 49.69" fill="#f4f4f4" stroke="#0a0a0a" stroke-width="1.3" stroke-linecap="round" stroke-linejoin="round"/>
<polygon points="551.06,49.57 561.06,49.69 560.94,58.88 550.94,58.76" fill="url(#g67)"/>
<path d="M551.06 49.57L561.06 49.69" fill="none" stroke="#1c1c1c" stroke-width="1.07" stroke-linecap="round"/>
<path d="M550.94 58.76L560.94 58.88" fill="none" stroke="#0a0a0a" stroke-width="1.34" stroke-linecap="round"/>
<path d="M557.44 58.84L557.92 58.69L558.37 58.23L558.76 57.51L559.06 56.56L559.26 55.45L559.34 54.26L559.29 53.07L559.12 51.96L558.84 51.01L558.47 50.27L558.03 49.81L557.56 49.65" fill="none" stroke="#0a0a0a" stroke-width="1.3" stroke-linecap="round" stroke-linejoin="round"/>
<path d="M560.94 58.88L561.42 58.73L561.87 58.28L562.26 57.55L562.56 56.6L562.76 55.5L562.84 54.31L562.79 53.12L562.62 52.01L562.34 51.05L561.97 50.32L561.53 49.85L561.06 49.69" fill="none" stroke="#0a0a0a" stroke-width="1.3" stroke-linecap="round" stroke-linejoin="round"/>
<polygon points="557.35,53.58 578,67.68 573.18,74.68 552.65,60.42" fill="url(#g68)"/>
<path d="M557.35 53.58L578 67.68" fill="none" stroke="#1c1c1c" stroke-width="1.06" stroke-linecap="round"/>
<path d="M552.65 60.42L573.18 74.68" fill="none" stroke="#0a0a0a" stroke-width="1.31" stroke-linecap="round"/>
<path d="M552.65 60.42L552.28 60L552.11 59.37L552.13 58.58L552.34 57.69L552.74 56.75L553.29 55.82L553.96 54.98L554.7 54.27L555.46 53.75L556.18 53.45L556.83 53.39L557.35 53.58" fill="#fff" stroke="#0a0a0a" stroke-width="1.3" stroke-linecap="round" stroke-linejoin="round"/>
<polygon points="444.57,56.07 434.78,63 439.63,69.86 449.43,62.93" fill="url(#g69)"/>
<path d="M444.57 56.07L434.78 63" fill="none" stroke="#1c1c1c" stroke-width="1.06" stroke-linecap="round"/>
<path d="M449.43 62.93L439.63 69.86" fill="none" stroke="#0a0a0a" stroke-width="1.58" stroke-linecap="round"/>
<path d="M441.27 58.4L440.91 58.84L440.74 59.47L440.77 60.27L441 61.17L441.42 62.12L441.99 63.05L442.67 63.89L443.43 64.6L444.2 65.12L444.94 65.41L445.6 65.46L446.13 65.26" fill="none" stroke="#0a0a0a" stroke-width="1.3" stroke-linecap="round" stroke-linejoin="round"/>
<path d="M600.8 165.2Q603.5 156.5 616.2 153.2" fill="none" stroke="#111" stroke-width="4.8" stroke-linecap="round" stroke-linejoin="round"/>
<path d="M601 179.6Q614 181.8 627.5 180.2" fill="none" stroke="#111" stroke-width="4.2" stroke-linecap="round" stroke-linejoin="round"/>
<path d="M445.8 57.5L454.6 72.5L464.8 53.5C466.5 49.5 470.5 48.3 471.8 51.5C472.8 54.5 471.5 56.8 470 58" fill="none" stroke="#111" stroke-width="3.8" stroke-linecap="round" stroke-linejoin="round"/>
<path d="M452 60.5L456 67" fill="none" stroke="#111" stroke-width="2.4" stroke-linecap="round" stroke-linejoin="round"/>
<path d="M640 237L663.25 237L663.25 368M634 290.75L663.25 290.75" fill="none" stroke="#000" stroke-width="3" stroke-linejoin="miter"/>
<polygon points="625,236.8 641,233 641,240.6" fill="#000"/>
<polygon points="618.5,290.5 635,286.6 635,294.4" fill="#000"/>
<rect x="634.8" y="367.8" width="137" height="192" rx="1.2" fill="#fff" stroke="#000" stroke-width="2.8"/>
<path d="M680.6 382L678.6 537M716.6 391L715.2 540M731.9 400L731.6 550" fill="none" stroke="#333" stroke-width="0.95" />
<g transform="translate(630 420) scale(0.1875)" fill="#fff" stroke="#111" stroke-width="6" stroke-linecap="round" stroke-linejoin="round"><path d="M460 356C490 367 520 367 545 358M460 372C490 383 520 383 545 374M460 388C490 399 520 399 545 390" fill="none" stroke-width="4.4"/><path d="M243 300C262 322 300 318 340 310C400 298 440 300 480 318C530 340 570 365 600 386L598 408C602 420 618 418 628 405L640 385C600 340 530 280 470 250C430 230 380 216 330 226Z"/><path d="M618 290C632 300 638 330 636 360L640 385L628 380C620 350 610 330 598 318Z"/><path d="M250 96C285 55 350 35 410 62C500 105 585 225 625 335L612 352C580 290 520 215 462 168C425 138 370 125 322 140Z"/><circle cx="237" cy="195" r="98"/><ellipse cx="188" cy="188" rx="37" ry="50" transform="rotate(-8 188 188)"/><path d="M200 165C215 175 215 200 203 212" fill="none"/><path d="M82 207C100 182 130 166 162 170M92 224C108 200 135 184 166 186M100 246C104 222 124 204 152 202" fill="none" stroke-width="4.6"/><path d="M82 207L92 224M100 246L92 224" fill="none" stroke-width="4.6"/><path d="M245 305C240 320 245 335 258 342" fill="none" stroke-width="4.4"/></g>
<g fill="none" opacity="0.9"><circle cx="546.6" cy="449" r="78.6" stroke="#a8a8a8" stroke-width="2.3"/><circle cx="546.9" cy="448.6" r="50.3" stroke="#a2a2a2" stroke-width="1.9"/><circle cx="546.8" cy="448.6" r="30" stroke="#a6a6a6" stroke-width="4.2"/></g>
<g clip-path="url(#pc)" fill="none" stroke="#bababa"><circle cx="546.6" cy="449" r="78.6" stroke-width="2.4"/></g>
<g filter="url(#soft)" font-size="19" fill="#c4c4c4" stroke="#c4c4c4" stroke-width="1.1" stroke-linejoin="round" opacity="0.94" letter-spacing="2.9" text-anchor="middle"><text><textPath href="#wmt" startOffset="50.9%">DANCOVER</textPath></text><text><textPath href="#wmb" startOffset="50.9%">DANCOVER</textPath></text><text x="546.5" y="467.4" font-size="52" font-weight="bold" letter-spacing="0" stroke-width="0.4">C</text></g></g></svg></body></html>
